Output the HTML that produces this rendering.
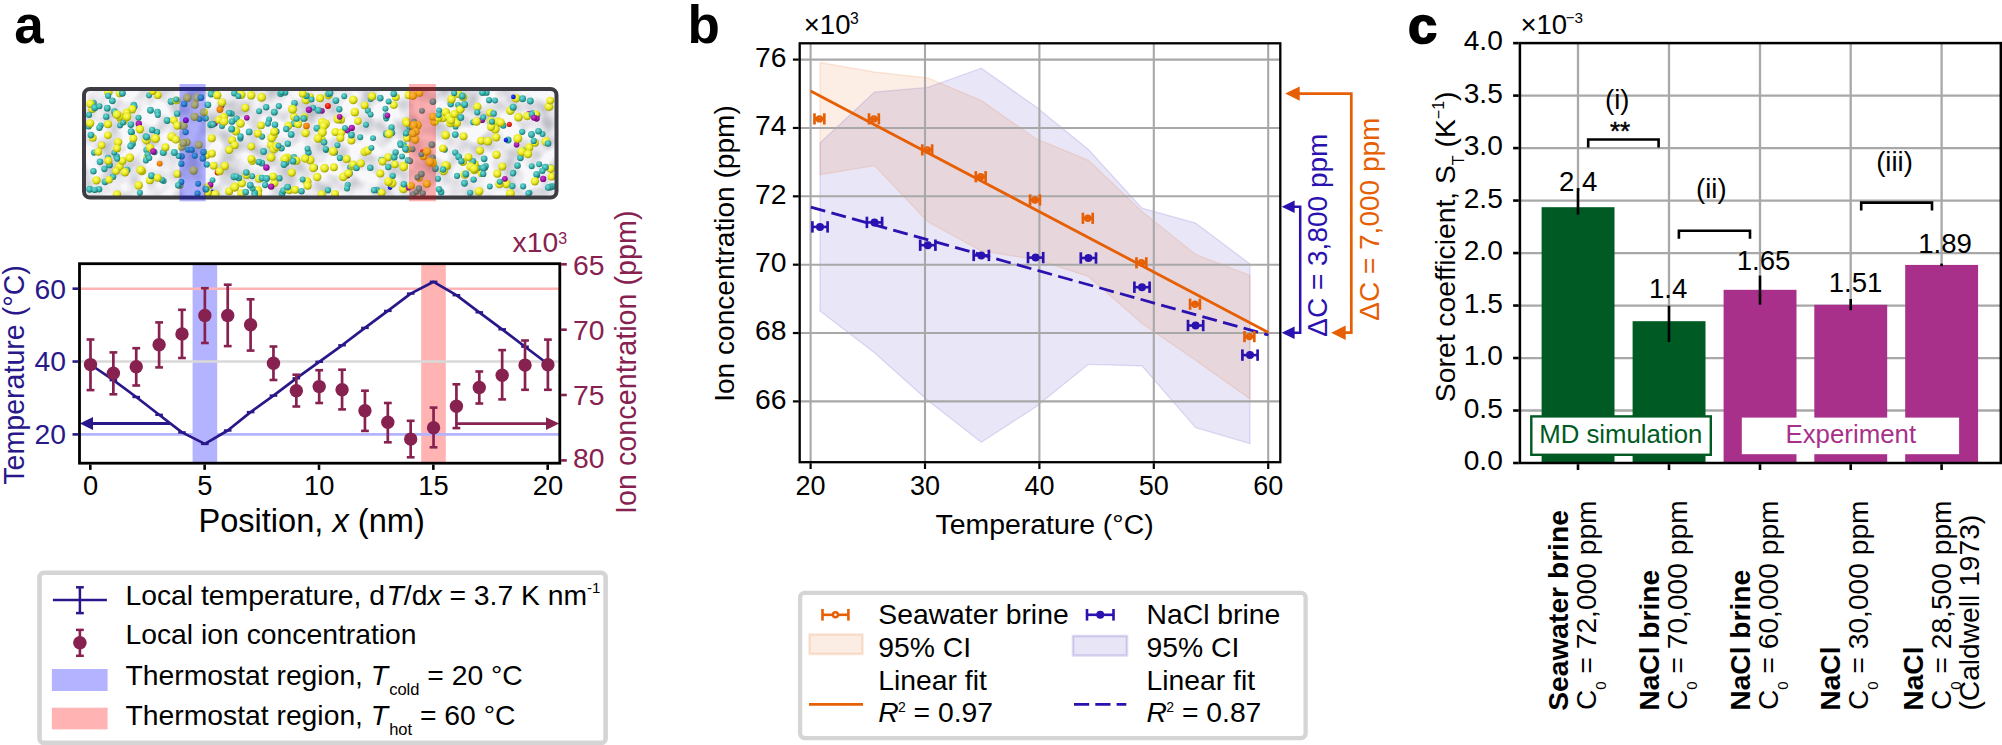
<!DOCTYPE html>
<html lang="en"><head><meta charset="utf-8"><title>Figure</title>
<style>html,body{margin:0;padding:0;background:#fff}svg{display:block}text{font-family:"Liberation Sans",Arial,Helvetica,sans-serif}</style></head><body>
<svg width="2002" height="745" viewBox="0 0 2002 745">
<rect width="2002" height="745" fill="#fff"/>
<defs>
<radialGradient id="gy" cx="0.4" cy="0.35" r="0.7"><stop offset="0" stop-color="#ffff70"/><stop offset="0.55" stop-color="#e6e61e"/><stop offset="1" stop-color="#8f8f00"/></radialGradient>
<radialGradient id="gc" cx="0.4" cy="0.35" r="0.7"><stop offset="0" stop-color="#70dcd8"/><stop offset="0.55" stop-color="#38b0ac"/><stop offset="1" stop-color="#126663"/></radialGradient>
<radialGradient id="gp" cx="0.4" cy="0.35" r="0.7"><stop offset="0" stop-color="#d040d0"/><stop offset="0.55" stop-color="#a818a8"/><stop offset="1" stop-color="#580058"/></radialGradient>
<radialGradient id="gr" cx="0.4" cy="0.35" r="0.7"><stop offset="0" stop-color="#ff5540"/><stop offset="0.55" stop-color="#ee1a10"/><stop offset="1" stop-color="#a00000"/></radialGradient>
<radialGradient id="go" cx="0.4" cy="0.35" r="0.7"><stop offset="0" stop-color="#ffa030"/><stop offset="0.55" stop-color="#f08000"/><stop offset="1" stop-color="#b05800"/></radialGradient>
<radialGradient id="gb" cx="0.4" cy="0.35" r="0.7"><stop offset="0" stop-color="#3050ff"/><stop offset="0.55" stop-color="#1020e0"/><stop offset="1" stop-color="#000890"/></radialGradient>
<radialGradient id="gg" cx="0.4" cy="0.35" r="0.7"><stop offset="0" stop-color="#b0b0b0"/><stop offset="0.55" stop-color="#8c8c8c"/><stop offset="1" stop-color="#5c5c5c"/></radialGradient>
<filter id="tex" x="0" y="0" width="100%" height="100%"><feTurbulence type="fractalNoise" baseFrequency="0.05" numOctaves="2" seed="7"/><feColorMatrix type="matrix" values="0 0 0 0 0.5  0 0 0 0 0.5  0 0 0 0 0.56  2.2 0 0 0 -0.85"/></filter>
<clipPath id="cbox"><rect x="84" y="89" width="472" height="108" rx="5"/></clipPath>
</defs>
<g id="panel-a">
<text x="14.3" y="43.3" font-size="53" fill="#000" font-weight="bold">a</text>
<g clip-path="url(#cbox)">
<rect x="83" y="88" width="474.5" height="110.5" fill="#f8f8fb"/>
<rect x="83" y="88" width="474.5" height="110.5" fill="#888" filter="url(#tex)"/>
<circle cx="351.39" cy="140.53" r="3.98" fill="url(#gy)"/>
<circle cx="127.14" cy="170.05" r="3.33" fill="url(#gc)"/>
<circle cx="337.49" cy="145.3" r="2.93" fill="url(#gc)"/>
<circle cx="376.79" cy="190.01" r="3.17" fill="url(#gc)"/>
<circle cx="506.35" cy="184.07" r="4.29" fill="url(#gy)"/>
<circle cx="119.59" cy="166.59" r="4.22" fill="url(#gy)"/>
<circle cx="107.98" cy="124.25" r="4.1" fill="url(#gy)"/>
<circle cx="413.09" cy="194.65" r="3.34" fill="url(#gc)"/>
<circle cx="339.84" cy="157.97" r="3.12" fill="url(#gc)"/>
<circle cx="159.68" cy="163.61" r="2.98" fill="url(#go)"/>
<circle cx="360.21" cy="137.28" r="3.02" fill="url(#gc)"/>
<circle cx="522.2" cy="131.77" r="3.13" fill="url(#gc)"/>
<circle cx="187.21" cy="97.87" r="4.25" fill="url(#gy)"/>
<circle cx="450.97" cy="121.97" r="4.45" fill="url(#gy)"/>
<circle cx="435.34" cy="168.49" r="3.4" fill="url(#gc)"/>
<circle cx="138.79" cy="123.71" r="3.17" fill="url(#gp)"/>
<circle cx="199.45" cy="119.02" r="3" fill="url(#gc)"/>
<circle cx="263.58" cy="151.56" r="3.48" fill="url(#gc)"/>
<circle cx="525" cy="150.24" r="3.11" fill="url(#gc)"/>
<circle cx="181.65" cy="156.38" r="3.16" fill="url(#gc)"/>
<circle cx="273.67" cy="135.28" r="3.86" fill="url(#gy)"/>
<circle cx="257.89" cy="190.39" r="4.36" fill="url(#gy)"/>
<circle cx="460.6" cy="108.89" r="4.14" fill="url(#gy)"/>
<circle cx="477.27" cy="106.81" r="4.28" fill="url(#gy)"/>
<circle cx="403.68" cy="165.75" r="4.16" fill="url(#gy)"/>
<circle cx="357.95" cy="121.09" r="3.79" fill="url(#gy)"/>
<circle cx="291.17" cy="134.4" r="3.4" fill="url(#gc)"/>
<circle cx="510.35" cy="193.61" r="4.52" fill="url(#gy)"/>
<circle cx="246.55" cy="174.88" r="4.04" fill="url(#gy)"/>
<circle cx="276.24" cy="131.46" r="3.33" fill="url(#gc)"/>
<circle cx="146.28" cy="150.08" r="2.99" fill="url(#gc)"/>
<circle cx="232.1" cy="140.15" r="4.01" fill="url(#gy)"/>
<circle cx="395.87" cy="97.06" r="3.92" fill="url(#gy)"/>
<circle cx="139.88" cy="129.3" r="4.19" fill="url(#gy)"/>
<circle cx="380.32" cy="173.52" r="3.99" fill="url(#gy)"/>
<circle cx="423.5" cy="156.33" r="3.89" fill="url(#gy)"/>
<circle cx="450.72" cy="104.08" r="3.31" fill="url(#gc)"/>
<circle cx="212.43" cy="192.05" r="2.54" fill="url(#gb)"/>
<circle cx="213.78" cy="165.7" r="3.88" fill="url(#gy)"/>
<circle cx="409.38" cy="124.96" r="3.19" fill="url(#gc)"/>
<circle cx="381.87" cy="160.2" r="3.49" fill="url(#gc)"/>
<circle cx="442.69" cy="118.26" r="4.02" fill="url(#gy)"/>
<circle cx="241.8" cy="183.37" r="4.09" fill="url(#gy)"/>
<circle cx="178.96" cy="125.65" r="3.02" fill="url(#gc)"/>
<circle cx="93.54" cy="103.03" r="3.26" fill="url(#gc)"/>
<circle cx="274.36" cy="183.09" r="4.13" fill="url(#gy)"/>
<circle cx="390.08" cy="187.48" r="2.42" fill="url(#gb)"/>
<circle cx="122.4" cy="160.83" r="4.05" fill="url(#gy)"/>
<circle cx="552.17" cy="186.41" r="3.48" fill="url(#gc)"/>
<circle cx="138.63" cy="185.37" r="4.33" fill="url(#gy)"/>
<circle cx="443.61" cy="171" r="4.29" fill="url(#gy)"/>
<circle cx="210.65" cy="124.77" r="3.38" fill="url(#gc)"/>
<circle cx="310.08" cy="97.46" r="4.11" fill="url(#gy)"/>
<circle cx="412.48" cy="149.16" r="3.02" fill="url(#gc)"/>
<circle cx="366.02" cy="124.76" r="2.94" fill="url(#gc)"/>
<circle cx="350.09" cy="167.34" r="3.14" fill="url(#gc)"/>
<circle cx="120.91" cy="118.65" r="4.01" fill="url(#gy)"/>
<circle cx="386.26" cy="118.32" r="3.08" fill="url(#gc)"/>
<circle cx="322.25" cy="122.28" r="4.24" fill="url(#gy)"/>
<circle cx="282.04" cy="193.51" r="3.42" fill="url(#gc)"/>
<circle cx="231.46" cy="113.62" r="3.22" fill="url(#gc)"/>
<circle cx="405.84" cy="121.18" r="3.88" fill="url(#gy)"/>
<circle cx="497.27" cy="124.4" r="3.03" fill="url(#gc)"/>
<circle cx="241.16" cy="94.54" r="4.42" fill="url(#gy)"/>
<circle cx="386.08" cy="115.63" r="3.33" fill="url(#gc)"/>
<circle cx="167.13" cy="120.45" r="3.46" fill="url(#gc)"/>
<circle cx="274.31" cy="112.15" r="3.46" fill="url(#gc)"/>
<circle cx="464.75" cy="174.52" r="4.3" fill="url(#gy)"/>
<circle cx="409.61" cy="126.4" r="3.43" fill="url(#gc)"/>
<circle cx="529.24" cy="147.47" r="4.11" fill="url(#gy)"/>
<circle cx="510.13" cy="111.15" r="3.12" fill="url(#gc)"/>
<circle cx="486.45" cy="92.68" r="3.18" fill="url(#gc)"/>
<circle cx="489.8" cy="186.51" r="2.94" fill="url(#gc)"/>
<circle cx="406.14" cy="135.05" r="3.07" fill="url(#gc)"/>
<circle cx="489.94" cy="112.66" r="3.96" fill="url(#gy)"/>
<circle cx="235.94" cy="131.09" r="4.32" fill="url(#gy)"/>
<circle cx="285.08" cy="92.45" r="3.23" fill="url(#gc)"/>
<circle cx="112.34" cy="100.86" r="3.36" fill="url(#gc)"/>
<circle cx="545.94" cy="141.53" r="4.42" fill="url(#gy)"/>
<circle cx="481.82" cy="173.13" r="3.99" fill="url(#gy)"/>
<circle cx="141.93" cy="170.95" r="4.31" fill="url(#gy)"/>
<circle cx="234.31" cy="93.24" r="3.18" fill="url(#gc)"/>
<circle cx="444.76" cy="149.58" r="3.08" fill="url(#gc)"/>
<circle cx="133.76" cy="105.02" r="3.34" fill="url(#gc)"/>
<circle cx="335.43" cy="132.04" r="3.99" fill="url(#gy)"/>
<circle cx="147.16" cy="157.11" r="3.85" fill="url(#gy)"/>
<circle cx="502.3" cy="166.46" r="4" fill="url(#gy)"/>
<circle cx="414.08" cy="121.89" r="3.1" fill="url(#gc)"/>
<circle cx="484.14" cy="158.84" r="3.36" fill="url(#gc)"/>
<circle cx="246.79" cy="117.78" r="2.81" fill="url(#gp)"/>
<circle cx="181.34" cy="163.64" r="3.17" fill="url(#gc)"/>
<circle cx="249.13" cy="131.98" r="3.37" fill="url(#gc)"/>
<circle cx="156.9" cy="132.12" r="3.3" fill="url(#gc)"/>
<circle cx="173.87" cy="120.37" r="3.78" fill="url(#gy)"/>
<circle cx="537.17" cy="175.51" r="2.95" fill="url(#gc)"/>
<circle cx="400.25" cy="143.29" r="3.04" fill="url(#gc)"/>
<circle cx="224.77" cy="165.9" r="4.24" fill="url(#gy)"/>
<circle cx="328.36" cy="95.04" r="4.36" fill="url(#gy)"/>
<circle cx="393.84" cy="105.03" r="3.85" fill="url(#gy)"/>
<circle cx="325.68" cy="123.84" r="4.31" fill="url(#gy)"/>
<circle cx="520.38" cy="157.87" r="3.35" fill="url(#gc)"/>
<circle cx="447.08" cy="165.96" r="4.08" fill="url(#gy)"/>
<circle cx="364.74" cy="151.75" r="4.3" fill="url(#gy)"/>
<circle cx="307.07" cy="181.58" r="4.46" fill="url(#gy)"/>
<circle cx="537.3" cy="115.1" r="3.09" fill="url(#gc)"/>
<circle cx="508.13" cy="139.98" r="3.45" fill="url(#gc)"/>
<circle cx="149.06" cy="95.37" r="3.02" fill="url(#gc)"/>
<circle cx="321.7" cy="194.22" r="4.01" fill="url(#gy)"/>
<circle cx="535.01" cy="142.75" r="3.93" fill="url(#gy)"/>
<circle cx="197.13" cy="97.62" r="4.22" fill="url(#gy)"/>
<circle cx="229.08" cy="150.17" r="3.35" fill="url(#gc)"/>
<circle cx="415.24" cy="139.52" r="4.19" fill="url(#gy)"/>
<circle cx="532.27" cy="112.86" r="2.95" fill="url(#gc)"/>
<circle cx="530.28" cy="101.07" r="3.47" fill="url(#gc)"/>
<circle cx="107.86" cy="135.35" r="3.81" fill="url(#gy)"/>
<circle cx="353.15" cy="166.03" r="4.13" fill="url(#gy)"/>
<circle cx="265.18" cy="184.97" r="3.16" fill="url(#gc)"/>
<circle cx="228.99" cy="113.1" r="3.32" fill="url(#gc)"/>
<circle cx="482.04" cy="120" r="3.12" fill="url(#gp)"/>
<circle cx="482.49" cy="92.51" r="3.38" fill="url(#gc)"/>
<circle cx="118.08" cy="142.18" r="4.2" fill="url(#gy)"/>
<circle cx="287.81" cy="143.76" r="3.23" fill="url(#gc)"/>
<circle cx="283.47" cy="190.54" r="3.37" fill="url(#gc)"/>
<circle cx="178.61" cy="155.93" r="3" fill="url(#gc)"/>
<circle cx="370.61" cy="98.93" r="2.99" fill="url(#gc)"/>
<circle cx="92.86" cy="137.98" r="3.86" fill="url(#gy)"/>
<circle cx="134.27" cy="106.52" r="3.26" fill="url(#gc)"/>
<circle cx="528.88" cy="113.8" r="2.83" fill="url(#gp)"/>
<circle cx="352.99" cy="164.41" r="3.87" fill="url(#gy)"/>
<circle cx="270.8" cy="144.82" r="3.82" fill="url(#gy)"/>
<circle cx="381.7" cy="192.66" r="3.88" fill="url(#gy)"/>
<circle cx="181.7" cy="146.64" r="3.95" fill="url(#gy)"/>
<circle cx="325.95" cy="149.85" r="3.14" fill="url(#gc)"/>
<circle cx="259.01" cy="178.72" r="4.11" fill="url(#gy)"/>
<circle cx="115.35" cy="114" r="3.36" fill="url(#gc)"/>
<circle cx="132.21" cy="109.22" r="4.19" fill="url(#gy)"/>
<circle cx="197.49" cy="193.47" r="3.14" fill="url(#gc)"/>
<circle cx="157.44" cy="112.12" r="3.38" fill="url(#gc)"/>
<circle cx="356.52" cy="167.97" r="3.23" fill="url(#gc)"/>
<circle cx="258" cy="193.98" r="4.08" fill="url(#gy)"/>
<circle cx="310.14" cy="160.11" r="4.34" fill="url(#gy)"/>
<circle cx="289.32" cy="190.1" r="4.19" fill="url(#gy)"/>
<circle cx="489.06" cy="100.13" r="3.08" fill="url(#gc)"/>
<circle cx="126.67" cy="112.4" r="3.97" fill="url(#gy)"/>
<circle cx="234.79" cy="145.21" r="3.88" fill="url(#gy)"/>
<circle cx="347.47" cy="175.57" r="3.04" fill="url(#gp)"/>
<circle cx="163.31" cy="152.46" r="3.51" fill="url(#gc)"/>
<circle cx="286.38" cy="162.7" r="3.13" fill="url(#gc)"/>
<circle cx="531.5" cy="134.55" r="3.44" fill="url(#gc)"/>
<circle cx="294.14" cy="123.49" r="3.43" fill="url(#gc)"/>
<circle cx="403.83" cy="145.16" r="3.17" fill="url(#gc)"/>
<circle cx="188.04" cy="149.65" r="2.98" fill="url(#gc)"/>
<circle cx="183.43" cy="125.69" r="4.32" fill="url(#gy)"/>
<circle cx="445.68" cy="165.5" r="4.41" fill="url(#gy)"/>
<circle cx="455.26" cy="152.54" r="3.14" fill="url(#gc)"/>
<circle cx="347.72" cy="184.83" r="3.05" fill="url(#gc)"/>
<circle cx="123.36" cy="120.89" r="4.33" fill="url(#gy)"/>
<circle cx="443.07" cy="169.55" r="3.21" fill="url(#gc)"/>
<circle cx="262.04" cy="178.1" r="3.47" fill="url(#gc)"/>
<circle cx="236.46" cy="118.93" r="3.38" fill="url(#gc)"/>
<circle cx="457.93" cy="93.83" r="4.26" fill="url(#gy)"/>
<circle cx="451.5" cy="99.12" r="4.37" fill="url(#gy)"/>
<circle cx="306.03" cy="99.78" r="4.51" fill="url(#gy)"/>
<circle cx="339.31" cy="109.24" r="3.16" fill="url(#gc)"/>
<circle cx="179.75" cy="185.15" r="3.82" fill="url(#gy)"/>
<circle cx="386.27" cy="134" r="3.4" fill="url(#gc)"/>
<circle cx="483.2" cy="117.36" r="3.08" fill="url(#gc)"/>
<circle cx="521.77" cy="151.68" r="4.48" fill="url(#gy)"/>
<circle cx="132" cy="132.42" r="2.98" fill="url(#gc)"/>
<circle cx="408.66" cy="95.19" r="4.07" fill="url(#gy)"/>
<circle cx="254.71" cy="193.17" r="3.43" fill="url(#gc)"/>
<circle cx="206.73" cy="155.16" r="4.15" fill="url(#gy)"/>
<circle cx="113.01" cy="176.81" r="3.25" fill="url(#gc)"/>
<circle cx="221.64" cy="105.33" r="2.87" fill="url(#gp)"/>
<circle cx="419.13" cy="177.6" r="4.13" fill="url(#gy)"/>
<circle cx="503.24" cy="125.52" r="3.24" fill="url(#gc)"/>
<circle cx="470.1" cy="192.81" r="3.13" fill="url(#gc)"/>
<circle cx="478.16" cy="167.85" r="3.1" fill="url(#gc)"/>
<circle cx="295.13" cy="189.76" r="3.95" fill="url(#gy)"/>
<circle cx="324.56" cy="168.07" r="4.4" fill="url(#gy)"/>
<circle cx="313.15" cy="107.72" r="3.04" fill="url(#gc)"/>
<circle cx="147.64" cy="154.69" r="3.09" fill="url(#gc)"/>
<circle cx="240.34" cy="138.61" r="3.04" fill="url(#gc)"/>
<circle cx="150.44" cy="110.31" r="3.46" fill="url(#gc)"/>
<circle cx="205.56" cy="118.29" r="3.22" fill="url(#gc)"/>
<circle cx="107.96" cy="157.9" r="3.17" fill="url(#gc)"/>
<circle cx="215.73" cy="92.25" r="3.08" fill="url(#gc)"/>
<circle cx="306.43" cy="95.78" r="3.39" fill="url(#gc)"/>
<circle cx="96.48" cy="180.34" r="4.2" fill="url(#gy)"/>
<circle cx="497.3" cy="173.67" r="4.07" fill="url(#gy)"/>
<circle cx="101.63" cy="145.37" r="3.81" fill="url(#gy)"/>
<circle cx="181.26" cy="181.96" r="3.12" fill="url(#gc)"/>
<circle cx="455.56" cy="126.64" r="2.95" fill="url(#gc)"/>
<circle cx="407.09" cy="138.15" r="3.85" fill="url(#gy)"/>
<circle cx="304.21" cy="117.4" r="4.03" fill="url(#gy)"/>
<circle cx="549" cy="106.63" r="4.46" fill="url(#gy)"/>
<circle cx="116.58" cy="156.43" r="3.28" fill="url(#gc)"/>
<circle cx="266.18" cy="107.3" r="3.2" fill="url(#gc)"/>
<circle cx="417.3" cy="125.34" r="4.48" fill="url(#gy)"/>
<circle cx="421.96" cy="110.85" r="2.94" fill="url(#gc)"/>
<circle cx="252.59" cy="188.51" r="3.05" fill="url(#gc)"/>
<circle cx="431.89" cy="144.77" r="3.44" fill="url(#gc)"/>
<circle cx="186.59" cy="142.26" r="3.95" fill="url(#gy)"/>
<circle cx="211.15" cy="94.07" r="3.46" fill="url(#gc)"/>
<circle cx="316.97" cy="128.14" r="3.48" fill="url(#gc)"/>
<circle cx="119.72" cy="93.37" r="4.02" fill="url(#gy)"/>
<circle cx="308.43" cy="152.43" r="3.22" fill="url(#gc)"/>
<circle cx="163.61" cy="180.91" r="3.01" fill="url(#gc)"/>
<circle cx="529.39" cy="192.7" r="3.06" fill="url(#gc)"/>
<circle cx="293.82" cy="157.31" r="3.34" fill="url(#gc)"/>
<circle cx="528.26" cy="193.33" r="2.97" fill="url(#gc)"/>
<circle cx="146.44" cy="139.98" r="4.4" fill="url(#gy)"/>
<circle cx="165.52" cy="147.23" r="3.9" fill="url(#gy)"/>
<circle cx="341" cy="119.79" r="4" fill="url(#gy)"/>
<circle cx="393.75" cy="93.73" r="3.34" fill="url(#gc)"/>
<circle cx="215.22" cy="194.28" r="4.27" fill="url(#gy)"/>
<circle cx="512.36" cy="186.12" r="3.16" fill="url(#gc)"/>
<circle cx="281.45" cy="148.33" r="3.27" fill="url(#gc)"/>
<circle cx="380.3" cy="98.1" r="3.34" fill="url(#gc)"/>
<circle cx="122.37" cy="93.17" r="3.46" fill="url(#gc)"/>
<circle cx="516.57" cy="144.66" r="2.8" fill="url(#gp)"/>
<circle cx="252.25" cy="160.94" r="4.14" fill="url(#gy)"/>
<circle cx="391.55" cy="127.48" r="3.17" fill="url(#gc)"/>
<circle cx="407.38" cy="132.13" r="3.22" fill="url(#gc)"/>
<circle cx="422.65" cy="151.87" r="2.66" fill="url(#gr)"/>
<circle cx="406.89" cy="148.84" r="4.31" fill="url(#gy)"/>
<circle cx="100.67" cy="125.53" r="3.03" fill="url(#gc)"/>
<circle cx="510.37" cy="110.45" r="4.37" fill="url(#gy)"/>
<circle cx="367.84" cy="110.64" r="3.03" fill="url(#gc)"/>
<circle cx="194.74" cy="104.85" r="3.98" fill="url(#gy)"/>
<circle cx="296.31" cy="160.66" r="4.21" fill="url(#gy)"/>
<circle cx="132.53" cy="143.79" r="3.39" fill="url(#gc)"/>
<circle cx="498.31" cy="121.78" r="4.28" fill="url(#gy)"/>
<circle cx="269.08" cy="119.5" r="3.03" fill="url(#gc)"/>
<circle cx="491.07" cy="121.4" r="4.03" fill="url(#gy)"/>
<circle cx="288.23" cy="125.79" r="4.18" fill="url(#gy)"/>
<circle cx="211.72" cy="123.89" r="3.15" fill="url(#gc)"/>
<circle cx="279.37" cy="178.2" r="3.24" fill="url(#gc)"/>
<circle cx="287.61" cy="187.12" r="3.49" fill="url(#gc)"/>
<circle cx="171.09" cy="101.4" r="3.44" fill="url(#gc)"/>
<circle cx="251.31" cy="158.87" r="3.9" fill="url(#gy)"/>
<circle cx="337.9" cy="119.02" r="4.48" fill="url(#gy)"/>
<circle cx="217.23" cy="95.15" r="4.22" fill="url(#gy)"/>
<circle cx="93.96" cy="152.53" r="3.12" fill="url(#gc)"/>
<circle cx="129.74" cy="157.73" r="4.44" fill="url(#gy)"/>
<circle cx="432.74" cy="157.57" r="3.09" fill="url(#gc)"/>
<circle cx="126.6" cy="115.94" r="2.73" fill="url(#gr)"/>
<circle cx="229.11" cy="191.21" r="4.08" fill="url(#gy)"/>
<circle cx="413.47" cy="125.31" r="4.34" fill="url(#gy)"/>
<circle cx="334.96" cy="193.93" r="4.03" fill="url(#gy)"/>
<circle cx="307.6" cy="185.8" r="4.01" fill="url(#gy)"/>
<circle cx="388.64" cy="101.43" r="2.97" fill="url(#gc)"/>
<circle cx="343.25" cy="176.83" r="4.42" fill="url(#gy)"/>
<circle cx="251.38" cy="146.61" r="3.83" fill="url(#gy)"/>
<circle cx="392.01" cy="183.24" r="4.45" fill="url(#gy)"/>
<circle cx="550.71" cy="167.1" r="2.94" fill="url(#gc)"/>
<circle cx="531.69" cy="166.14" r="3" fill="url(#gc)"/>
<circle cx="535.91" cy="115.97" r="3.24" fill="url(#gc)"/>
<circle cx="177.42" cy="173.88" r="3.88" fill="url(#gy)"/>
<circle cx="457.95" cy="104.82" r="2.93" fill="url(#gc)"/>
<circle cx="462.93" cy="161.88" r="4.18" fill="url(#gy)"/>
<circle cx="460.08" cy="109.65" r="4.19" fill="url(#gy)"/>
<circle cx="93.4" cy="171.35" r="3.24" fill="url(#gc)"/>
<circle cx="341.3" cy="132.56" r="4.14" fill="url(#gy)"/>
<circle cx="353.24" cy="99.89" r="4.4" fill="url(#gy)"/>
<circle cx="416.71" cy="191.68" r="3" fill="url(#gc)"/>
<circle cx="372.12" cy="96.39" r="4.09" fill="url(#gy)"/>
<circle cx="303.75" cy="118.46" r="3.4" fill="url(#gc)"/>
<circle cx="302.62" cy="179.52" r="3" fill="url(#gc)"/>
<circle cx="354.76" cy="112.09" r="4.4" fill="url(#gy)"/>
<circle cx="209.41" cy="185.57" r="3.79" fill="url(#gy)"/>
<circle cx="504.85" cy="178.86" r="2.89" fill="url(#gp)"/>
<circle cx="327.9" cy="105.9" r="3" fill="url(#gr)"/>
<circle cx="373.03" cy="138.12" r="2.99" fill="url(#gc)"/>
<circle cx="388.15" cy="157.24" r="3.92" fill="url(#gy)"/>
<circle cx="211.75" cy="138.19" r="4.05" fill="url(#gy)"/>
<circle cx="223.7" cy="117.28" r="4.45" fill="url(#gy)"/>
<circle cx="400.52" cy="144.99" r="2.99" fill="url(#gc)"/>
<circle cx="114.23" cy="152.66" r="2.93" fill="url(#gc)"/>
<circle cx="403.39" cy="188.85" r="4.42" fill="url(#gy)"/>
<circle cx="551.56" cy="176.67" r="3.86" fill="url(#gy)"/>
<circle cx="474.62" cy="164.31" r="4.36" fill="url(#gy)"/>
<circle cx="210.49" cy="184.49" r="2.9" fill="url(#gp)"/>
<circle cx="320.05" cy="98.16" r="4.04" fill="url(#gy)"/>
<circle cx="542.58" cy="134.07" r="3.01" fill="url(#gc)"/>
<circle cx="463.11" cy="97.07" r="4.27" fill="url(#gy)"/>
<circle cx="527.22" cy="116.03" r="4.1" fill="url(#gy)"/>
<circle cx="536.02" cy="114.4" r="3.84" fill="url(#gy)"/>
<circle cx="246.23" cy="172.58" r="3.26" fill="url(#gc)"/>
<circle cx="321.95" cy="139.48" r="3.81" fill="url(#gy)"/>
<circle cx="114.46" cy="111.69" r="3.33" fill="url(#gc)"/>
<circle cx="426.78" cy="183.7" r="4.07" fill="url(#gy)"/>
<circle cx="477.23" cy="112.34" r="3.08" fill="url(#gc)"/>
<circle cx="176.31" cy="100.35" r="3.93" fill="url(#gy)"/>
<circle cx="287.24" cy="157.57" r="3.95" fill="url(#gy)"/>
<circle cx="458.66" cy="156.74" r="3.35" fill="url(#gc)"/>
<circle cx="286.28" cy="129.03" r="3.26" fill="url(#gc)"/>
<circle cx="206.76" cy="164.42" r="3.14" fill="url(#gc)"/>
<circle cx="392.62" cy="175.81" r="3.18" fill="url(#gc)"/>
<circle cx="403.82" cy="184.26" r="3.25" fill="url(#gc)"/>
<circle cx="174.32" cy="152.51" r="3.49" fill="url(#gc)"/>
<circle cx="333.91" cy="167.29" r="3.96" fill="url(#gy)"/>
<circle cx="516.07" cy="98.2" r="4.3" fill="url(#gy)"/>
<circle cx="207.89" cy="104.83" r="3.4" fill="url(#gc)"/>
<circle cx="394.16" cy="157.21" r="3.42" fill="url(#gc)"/>
<circle cx="293.94" cy="116.83" r="3.94" fill="url(#gy)"/>
<circle cx="321.8" cy="110.86" r="2.97" fill="url(#gp)"/>
<circle cx="474.37" cy="169.85" r="4.45" fill="url(#gy)"/>
<circle cx="495.24" cy="129.2" r="4.45" fill="url(#gy)"/>
<circle cx="150.13" cy="147.72" r="4.04" fill="url(#gy)"/>
<circle cx="293.04" cy="161.17" r="3.35" fill="url(#gc)"/>
<circle cx="360.79" cy="163.36" r="4.09" fill="url(#gy)"/>
<circle cx="454.17" cy="93.05" r="3.11" fill="url(#gc)"/>
<circle cx="273.91" cy="148.98" r="4.42" fill="url(#gy)"/>
<circle cx="548" cy="143.47" r="3.31" fill="url(#gc)"/>
<circle cx="157.8" cy="114.94" r="3.02" fill="url(#gc)"/>
<circle cx="472.83" cy="161.48" r="3.45" fill="url(#gc)"/>
<circle cx="335.87" cy="100.55" r="3.39" fill="url(#gc)"/>
<circle cx="130.63" cy="146.13" r="3.31" fill="url(#gc)"/>
<circle cx="422.85" cy="193.22" r="3.01" fill="url(#gc)"/>
<circle cx="307.49" cy="148.7" r="3" fill="url(#gc)"/>
<circle cx="274.97" cy="124.8" r="3.3" fill="url(#gc)"/>
<circle cx="456.75" cy="117.26" r="2.93" fill="url(#gc)"/>
<circle cx="531.9" cy="114.31" r="3.17" fill="url(#gc)"/>
<circle cx="117" cy="148.41" r="3.94" fill="url(#gy)"/>
<circle cx="491.05" cy="126.76" r="4.15" fill="url(#gy)"/>
<circle cx="145.72" cy="136.24" r="3.03" fill="url(#gc)"/>
<circle cx="408.06" cy="160.3" r="3.31" fill="url(#gc)"/>
<circle cx="406.74" cy="123.19" r="3.83" fill="url(#gy)"/>
<circle cx="346.71" cy="159" r="3.93" fill="url(#gy)"/>
<circle cx="415.76" cy="131.68" r="3.9" fill="url(#gy)"/>
<circle cx="445.61" cy="135.09" r="4.45" fill="url(#gy)"/>
<circle cx="259.13" cy="111.24" r="3.02" fill="url(#gc)"/>
<circle cx="261.74" cy="163.1" r="3.45" fill="url(#gc)"/>
<circle cx="92.18" cy="108.97" r="4.05" fill="url(#gy)"/>
<circle cx="454.3" cy="118.41" r="3.82" fill="url(#gy)"/>
<circle cx="538.47" cy="131.22" r="3.3" fill="url(#gc)"/>
<circle cx="463.58" cy="136.3" r="3.96" fill="url(#gy)"/>
<circle cx="315.13" cy="167.43" r="2.98" fill="url(#gc)"/>
<circle cx="262.05" cy="136.51" r="3.13" fill="url(#gc)"/>
<circle cx="241.4" cy="193.34" r="4.12" fill="url(#gy)"/>
<circle cx="133.33" cy="138.59" r="3.97" fill="url(#gy)"/>
<circle cx="89.1" cy="114.9" r="3.06" fill="url(#gc)"/>
<circle cx="305.56" cy="132.94" r="4.28" fill="url(#gy)"/>
<circle cx="305.07" cy="158.61" r="4.11" fill="url(#gy)"/>
<circle cx="88.53" cy="126.22" r="3.31" fill="url(#gc)"/>
<circle cx="238.76" cy="177.92" r="3.25" fill="url(#gc)"/>
<circle cx="347.5" cy="130.5" r="2.92" fill="url(#gp)"/>
<circle cx="222.01" cy="125.98" r="3.02" fill="url(#gc)"/>
<circle cx="178.21" cy="185.32" r="3.28" fill="url(#gc)"/>
<circle cx="130.83" cy="124.52" r="3.39" fill="url(#gc)"/>
<circle cx="200.85" cy="97.58" r="3.37" fill="url(#gc)"/>
<circle cx="456.86" cy="123.1" r="4.26" fill="url(#gy)"/>
<circle cx="311.52" cy="99.56" r="3.04" fill="url(#gc)"/>
<circle cx="394.92" cy="164.44" r="3.83" fill="url(#gy)"/>
<circle cx="405.56" cy="149.05" r="3.47" fill="url(#gc)"/>
<circle cx="106.21" cy="116.63" r="3.19" fill="url(#gc)"/>
<circle cx="323.67" cy="126.02" r="4.31" fill="url(#gy)"/>
<circle cx="318.42" cy="110.32" r="3.39" fill="url(#gc)"/>
<circle cx="229.23" cy="149.95" r="4.13" fill="url(#gy)"/>
<circle cx="327.96" cy="190.14" r="3.11" fill="url(#gc)"/>
<circle cx="257.95" cy="133.47" r="4.01" fill="url(#gy)"/>
<circle cx="367.84" cy="150.57" r="4.22" fill="url(#gy)"/>
<circle cx="233.97" cy="176.71" r="3.47" fill="url(#gc)"/>
<circle cx="267.88" cy="123.6" r="3.11" fill="url(#gc)"/>
<circle cx="479.01" cy="191.28" r="4.39" fill="url(#gy)"/>
<circle cx="470.66" cy="166.66" r="4.31" fill="url(#gy)"/>
<circle cx="154.5" cy="152.14" r="3.04" fill="url(#gc)"/>
<circle cx="481.05" cy="140.72" r="4" fill="url(#gy)"/>
<circle cx="140.59" cy="170.04" r="4.35" fill="url(#gy)"/>
<circle cx="370.6" cy="114.49" r="2.94" fill="url(#gc)"/>
<circle cx="382.56" cy="161.47" r="3.91" fill="url(#gy)"/>
<circle cx="294.5" cy="103.21" r="3.25" fill="url(#gc)"/>
<circle cx="131.06" cy="131.73" r="3.36" fill="url(#gc)"/>
<circle cx="271.04" cy="157.39" r="4.43" fill="url(#gy)"/>
<circle cx="509.33" cy="124.38" r="2.53" fill="url(#gr)"/>
<circle cx="484.84" cy="167.4" r="3.28" fill="url(#gc)"/>
<circle cx="298.12" cy="124.34" r="4.02" fill="url(#gy)"/>
<circle cx="500.69" cy="122.42" r="4.28" fill="url(#gy)"/>
<circle cx="276.74" cy="146.43" r="4.45" fill="url(#gy)"/>
<circle cx="406.01" cy="133.32" r="3.08" fill="url(#gc)"/>
<circle cx="252.21" cy="176.3" r="2.93" fill="url(#gc)"/>
<circle cx="90.36" cy="103.75" r="4.2" fill="url(#gy)"/>
<circle cx="280.58" cy="93.57" r="3.43" fill="url(#gc)"/>
<circle cx="391.83" cy="132.81" r="3.41" fill="url(#gc)"/>
<circle cx="461.4" cy="161.14" r="3.25" fill="url(#gc)"/>
<circle cx="441.04" cy="192.17" r="3.31" fill="url(#gc)"/>
<circle cx="371.39" cy="147.87" r="2.98" fill="url(#gc)"/>
<circle cx="388.41" cy="181.57" r="4.42" fill="url(#gy)"/>
<circle cx="445.78" cy="112.21" r="4.28" fill="url(#gy)"/>
<circle cx="328.57" cy="93.84" r="3.43" fill="url(#gc)"/>
<circle cx="351.41" cy="134.95" r="3.43" fill="url(#gc)"/>
<circle cx="485.83" cy="166.09" r="2.97" fill="url(#gc)"/>
<circle cx="479.9" cy="150.64" r="4.2" fill="url(#gy)"/>
<circle cx="94.65" cy="107.73" r="3.46" fill="url(#gc)"/>
<circle cx="185.6" cy="132.1" r="3.16" fill="url(#gc)"/>
<circle cx="99.38" cy="127.86" r="3.18" fill="url(#gc)"/>
<circle cx="340.4" cy="137.95" r="4" fill="url(#gy)"/>
<circle cx="278.83" cy="106.06" r="3.13" fill="url(#gc)"/>
<circle cx="104.41" cy="168.98" r="3.16" fill="url(#gc)"/>
<circle cx="109.5" cy="164.92" r="3.37" fill="url(#gc)"/>
<circle cx="271.65" cy="137.92" r="4.34" fill="url(#gy)"/>
<circle cx="149.91" cy="180.33" r="4.02" fill="url(#gy)"/>
<circle cx="536.54" cy="174.25" r="3.24" fill="url(#gc)"/>
<circle cx="217.58" cy="172.52" r="2.92" fill="url(#gr)"/>
<circle cx="120" cy="125.38" r="2.93" fill="url(#gc)"/>
<circle cx="292.25" cy="108.81" r="4.01" fill="url(#gy)"/>
<circle cx="261.01" cy="125.42" r="3.84" fill="url(#gy)"/>
<circle cx="185.86" cy="120.19" r="2.91" fill="url(#gp)"/>
<circle cx="261.58" cy="97.27" r="4.45" fill="url(#gy)"/>
<circle cx="151.45" cy="175.76" r="3.39" fill="url(#gc)"/>
<circle cx="219.61" cy="171.23" r="3.99" fill="url(#gy)"/>
<circle cx="214.85" cy="123.82" r="2.73" fill="url(#gp)"/>
<circle cx="434.43" cy="121.42" r="4.49" fill="url(#gy)"/>
<circle cx="238.39" cy="96.15" r="2.97" fill="url(#gc)"/>
<circle cx="98.27" cy="151.82" r="3.92" fill="url(#gy)"/>
<circle cx="439.12" cy="110.41" r="2.95" fill="url(#gc)"/>
<circle cx="432.86" cy="116.65" r="3.9" fill="url(#gy)"/>
<circle cx="339.63" cy="116.81" r="2.83" fill="url(#gp)"/>
<circle cx="322.31" cy="132.38" r="4.52" fill="url(#gy)"/>
<circle cx="155.54" cy="138.54" r="4.5" fill="url(#gy)"/>
<circle cx="90.94" cy="135.09" r="3.37" fill="url(#gc)"/>
<circle cx="211.87" cy="153.48" r="3.99" fill="url(#gy)"/>
<circle cx="284.76" cy="158.91" r="4.46" fill="url(#gy)"/>
<circle cx="460.76" cy="117.55" r="3.46" fill="url(#gc)"/>
<circle cx="250.17" cy="185.19" r="3.42" fill="url(#gc)"/>
<circle cx="207.7" cy="192.88" r="3.93" fill="url(#gy)"/>
<circle cx="301.46" cy="191.14" r="3.26" fill="url(#gc)"/>
<circle cx="284.02" cy="164.52" r="3.41" fill="url(#gc)"/>
<circle cx="421.35" cy="154.36" r="2.98" fill="url(#gc)"/>
<circle cx="370.22" cy="167.79" r="3.25" fill="url(#gc)"/>
<circle cx="90.19" cy="123.26" r="4.13" fill="url(#gy)"/>
<circle cx="296.64" cy="118.62" r="3.21" fill="url(#gc)"/>
<circle cx="273.02" cy="176.5" r="4.02" fill="url(#gy)"/>
<circle cx="292.62" cy="109.35" r="4.44" fill="url(#gy)"/>
<circle cx="513.18" cy="107.2" r="3.5" fill="url(#gc)"/>
<circle cx="448.74" cy="116.95" r="3.9" fill="url(#gy)"/>
<circle cx="194.78" cy="155.86" r="3.02" fill="url(#gc)"/>
<circle cx="325.7" cy="148.99" r="3.04" fill="url(#gc)"/>
<circle cx="198.84" cy="144.92" r="3.8" fill="url(#gy)"/>
<circle cx="105.02" cy="181.77" r="3.37" fill="url(#gc)"/>
<circle cx="161.88" cy="179.78" r="3.14" fill="url(#gc)"/>
<circle cx="483.33" cy="167.95" r="3.48" fill="url(#gc)"/>
<circle cx="403.69" cy="166.86" r="4.44" fill="url(#gy)"/>
<circle cx="302.7" cy="93.65" r="3.85" fill="url(#gy)"/>
<circle cx="364.64" cy="105.27" r="3.87" fill="url(#gy)"/>
<circle cx="202.88" cy="158.4" r="3.31" fill="url(#gc)"/>
<circle cx="258.82" cy="161.92" r="3.21" fill="url(#gc)"/>
<circle cx="109.05" cy="179.78" r="3.82" fill="url(#gy)"/>
<circle cx="468.49" cy="157.26" r="3.9" fill="url(#gy)"/>
<circle cx="177.09" cy="113.66" r="3.18" fill="url(#gc)"/>
<circle cx="194.56" cy="116.86" r="4.23" fill="url(#gy)"/>
<circle cx="278.51" cy="145.76" r="3.01" fill="url(#gc)"/>
<circle cx="517.76" cy="138.54" r="4.53" fill="url(#gy)"/>
<circle cx="108.23" cy="92.26" r="4.3" fill="url(#gy)"/>
<circle cx="334.94" cy="152.45" r="3.02" fill="url(#gc)"/>
<circle cx="212.88" cy="124.46" r="3.13" fill="url(#gc)"/>
<circle cx="123.06" cy="122.44" r="2.95" fill="url(#gc)"/>
<circle cx="349.73" cy="173.48" r="3.12" fill="url(#gc)"/>
<circle cx="483.19" cy="173.88" r="3.22" fill="url(#gc)"/>
<circle cx="534.92" cy="181.26" r="4.17" fill="url(#gy)"/>
<circle cx="152.15" cy="129.9" r="3.24" fill="url(#gc)"/>
<circle cx="549.99" cy="187.2" r="3.38" fill="url(#gc)"/>
<circle cx="432.57" cy="162.91" r="4.51" fill="url(#gy)"/>
<circle cx="495.02" cy="100.59" r="2.97" fill="url(#gc)"/>
<circle cx="523.13" cy="186.38" r="3.06" fill="url(#gc)"/>
<circle cx="395.62" cy="152.3" r="3.17" fill="url(#gc)"/>
<circle cx="410.08" cy="161.12" r="3.08" fill="url(#gc)"/>
<circle cx="493.6" cy="113.61" r="3.25" fill="url(#gc)"/>
<circle cx="408.57" cy="187.8" r="2.82" fill="url(#gp)"/>
<circle cx="385.43" cy="108.75" r="3.03" fill="url(#gc)"/>
<circle cx="457.04" cy="175.89" r="3.05" fill="url(#gc)"/>
<circle cx="108.11" cy="95.79" r="3.14" fill="url(#gc)"/>
<circle cx="417.51" cy="177.2" r="3.06" fill="url(#gc)"/>
<circle cx="388.27" cy="167.06" r="3.26" fill="url(#gc)"/>
<circle cx="206.1" cy="187.87" r="3.81" fill="url(#gy)"/>
<circle cx="219.94" cy="109.45" r="3.43" fill="url(#go)"/>
<circle cx="550.73" cy="168.8" r="4.1" fill="url(#gy)"/>
<circle cx="176.13" cy="99.55" r="3.06" fill="url(#gc)"/>
<circle cx="545.36" cy="167.29" r="3.46" fill="url(#gc)"/>
<circle cx="533.76" cy="140.95" r="3.14" fill="url(#gc)"/>
<circle cx="281.52" cy="92.06" r="3.1" fill="url(#gc)"/>
<circle cx="145.87" cy="160.42" r="3.05" fill="url(#gc)"/>
<circle cx="536.67" cy="118.55" r="3.12" fill="url(#gp)"/>
<circle cx="324.06" cy="142.37" r="3.27" fill="url(#gc)"/>
<circle cx="149.32" cy="158.08" r="2.98" fill="url(#gc)"/>
<circle cx="513.31" cy="172.83" r="3.01" fill="url(#gc)"/>
<circle cx="419.42" cy="93.09" r="3.86" fill="url(#gy)"/>
<circle cx="450.39" cy="123.27" r="4.05" fill="url(#gy)"/>
<circle cx="177.34" cy="125.45" r="4.21" fill="url(#gy)"/>
<circle cx="528.03" cy="154.02" r="4.24" fill="url(#gy)"/>
<circle cx="473.09" cy="122.2" r="2.93" fill="url(#gc)"/>
<circle cx="306.45" cy="126.02" r="3.32" fill="url(#go)"/>
<circle cx="157.66" cy="177.82" r="3.93" fill="url(#gy)"/>
<circle cx="451" cy="120.36" r="4.03" fill="url(#gy)"/>
<circle cx="221.94" cy="102.4" r="4.27" fill="url(#gy)"/>
<circle cx="437.91" cy="178.76" r="3.09" fill="url(#gc)"/>
<circle cx="157.8" cy="95.04" r="3.88" fill="url(#gy)"/>
<circle cx="429.83" cy="161.88" r="4.47" fill="url(#gy)"/>
<circle cx="119.49" cy="116.5" r="4.21" fill="url(#gy)"/>
<circle cx="351.79" cy="127.88" r="3.13" fill="url(#gp)"/>
<circle cx="116.95" cy="114.59" r="4.38" fill="url(#gy)"/>
<circle cx="138.52" cy="117.71" r="3.05" fill="url(#gc)"/>
<circle cx="411.11" cy="185.7" r="3.8" fill="url(#gy)"/>
<circle cx="432.87" cy="101.59" r="3.4" fill="url(#gc)"/>
<circle cx="330.39" cy="93.04" r="3.04" fill="url(#gc)"/>
<circle cx="205.84" cy="189.13" r="3.35" fill="url(#gc)"/>
<circle cx="438.44" cy="117.76" r="4.08" fill="url(#gy)"/>
<circle cx="464.46" cy="183.26" r="3.39" fill="url(#gc)"/>
<circle cx="271.12" cy="186.62" r="3.24" fill="url(#gp)"/>
<circle cx="464.63" cy="104.39" r="3.5" fill="url(#gc)"/>
<circle cx="127.1" cy="116.86" r="4.28" fill="url(#gy)"/>
<circle cx="487.9" cy="141.12" r="4.46" fill="url(#gy)"/>
<circle cx="462.29" cy="96.12" r="3.51" fill="url(#gc)"/>
<circle cx="89.6" cy="189.25" r="3.38" fill="url(#gc)"/>
<circle cx="499.45" cy="184.13" r="4.18" fill="url(#gy)"/>
<circle cx="348.34" cy="173.29" r="4.09" fill="url(#gy)"/>
<circle cx="412.67" cy="133.51" r="3.85" fill="url(#gy)"/>
<circle cx="254.61" cy="195.48" r="2.99" fill="url(#gc)"/>
<circle cx="513.43" cy="96.99" r="2.38" fill="url(#gb)"/>
<circle cx="317.19" cy="177.03" r="4.22" fill="url(#gy)"/>
<circle cx="116.02" cy="171.1" r="3.83" fill="url(#gy)"/>
<circle cx="313.36" cy="167.89" r="4.32" fill="url(#gy)"/>
<circle cx="245.34" cy="107.85" r="4.05" fill="url(#gy)"/>
<circle cx="333.07" cy="151.33" r="4.43" fill="url(#gy)"/>
<circle cx="512.82" cy="173.52" r="2.93" fill="url(#gc)"/>
<circle cx="203.82" cy="112.2" r="4.03" fill="url(#gy)"/>
<circle cx="347.03" cy="188.41" r="3.02" fill="url(#gc)"/>
<circle cx="454.41" cy="114.04" r="4.04" fill="url(#gy)"/>
<circle cx="231.87" cy="121.48" r="3.34" fill="url(#gc)"/>
<circle cx="99.03" cy="189.21" r="3.33" fill="url(#gc)"/>
<circle cx="99.43" cy="106.33" r="3" fill="url(#gc)"/>
<circle cx="183.13" cy="142.79" r="3.92" fill="url(#gy)"/>
<circle cx="548.15" cy="187.54" r="3.25" fill="url(#gc)"/>
<circle cx="171.69" cy="136.7" r="4.53" fill="url(#gy)"/>
<circle cx="175.83" cy="139.56" r="3.98" fill="url(#gy)"/>
<circle cx="218.83" cy="119.89" r="3.82" fill="url(#gy)"/>
<circle cx="308.92" cy="109.77" r="3.15" fill="url(#gp)"/>
<circle cx="124.97" cy="172.27" r="4.25" fill="url(#gy)"/>
<circle cx="153.3" cy="151.44" r="3.11" fill="url(#gp)"/>
<circle cx="418.98" cy="188.51" r="3.14" fill="url(#gc)"/>
<circle cx="231.66" cy="129.1" r="3.51" fill="url(#gc)"/>
<circle cx="412.84" cy="95.78" r="4.27" fill="url(#gy)"/>
<circle cx="439.05" cy="189.3" r="3.26" fill="url(#gc)"/>
<circle cx="193.58" cy="170.4" r="4.23" fill="url(#gy)"/>
<circle cx="94.68" cy="189.96" r="3.08" fill="url(#gc)"/>
<circle cx="539.17" cy="164.35" r="3.02" fill="url(#gc)"/>
<circle cx="291.79" cy="172.61" r="4.22" fill="url(#gy)"/>
<circle cx="184.19" cy="103.9" r="3.17" fill="url(#gc)"/>
<circle cx="387.46" cy="115.48" r="2.78" fill="url(#gp)"/>
<circle cx="389" cy="133.88" r="4.29" fill="url(#gy)"/>
<circle cx="266.57" cy="178.51" r="3.48" fill="url(#gc)"/>
<circle cx="517.51" cy="165.49" r="3.35" fill="url(#gc)"/>
<circle cx="522.57" cy="98.77" r="3.46" fill="url(#gc)"/>
<circle cx="212.53" cy="180.12" r="2.95" fill="url(#gc)"/>
<circle cx="191.65" cy="149.65" r="3.17" fill="url(#gc)"/>
<circle cx="240.51" cy="123.46" r="4.36" fill="url(#gy)"/>
<circle cx="224.1" cy="121.52" r="4.38" fill="url(#gy)"/>
<circle cx="465.85" cy="173.99" r="3.44" fill="url(#gc)"/>
<circle cx="476.48" cy="121.45" r="4.26" fill="url(#gy)"/>
<circle cx="203.56" cy="152.09" r="3.39" fill="url(#gc)"/>
<circle cx="402.07" cy="156.38" r="2.94" fill="url(#gc)"/>
<circle cx="251.19" cy="95.37" r="4.25" fill="url(#gy)"/>
<circle cx="421.38" cy="174.01" r="3.31" fill="url(#gc)"/>
<circle cx="499.78" cy="181.7" r="3.04" fill="url(#gc)"/>
<circle cx="236.47" cy="176.54" r="2.98" fill="url(#gc)"/>
<circle cx="152.73" cy="91.09" r="3.92" fill="url(#gy)"/>
<circle cx="473.63" cy="179.55" r="3.17" fill="url(#gc)"/>
<circle cx="455.28" cy="134.6" r="3.4" fill="url(#gc)"/>
<circle cx="318" cy="138.36" r="4.31" fill="url(#gy)"/>
<circle cx="550.3" cy="100.61" r="3.84" fill="url(#gy)"/>
<circle cx="344.97" cy="128.09" r="2.98" fill="url(#gc)"/>
<circle cx="474.09" cy="168.65" r="4.35" fill="url(#gy)"/>
<circle cx="496.49" cy="154.81" r="4.23" fill="url(#gy)"/>
<circle cx="234.76" cy="187.12" r="4.51" fill="url(#gy)"/>
<circle cx="542.31" cy="170.85" r="3.17" fill="url(#gc)"/>
<circle cx="442.88" cy="148.32" r="3.87" fill="url(#gy)"/>
<circle cx="491.82" cy="121.75" r="2.95" fill="url(#gc)"/>
<circle cx="266.38" cy="167.53" r="3.23" fill="url(#gp)"/>
<circle cx="117.15" cy="158.8" r="3.01" fill="url(#gc)"/>
<circle cx="373.94" cy="190.21" r="3.11" fill="url(#gc)"/>
<circle cx="240.55" cy="136.42" r="3.12" fill="url(#gc)"/>
<circle cx="146.67" cy="137.01" r="3.37" fill="url(#gc)"/>
<circle cx="438.74" cy="115.11" r="3.06" fill="url(#gc)"/>
<circle cx="245.71" cy="192.1" r="3.36" fill="url(#gc)"/>
<circle cx="198.13" cy="183.74" r="2.96" fill="url(#gc)"/>
<circle cx="496.21" cy="137.32" r="4.16" fill="url(#gy)"/>
<circle cx="505.93" cy="139.93" r="2.3" fill="url(#gb)"/>
<circle cx="274.19" cy="131.69" r="4.02" fill="url(#gy)"/>
<circle cx="107.29" cy="108.15" r="3.41" fill="url(#gc)"/>
<circle cx="344.23" cy="96.19" r="2.94" fill="url(#gc)"/>
<circle cx="139.86" cy="192.83" r="3.09" fill="url(#gc)"/>
<circle cx="427.03" cy="151.45" r="4.18" fill="url(#gy)"/>
<circle cx="518.46" cy="117.15" r="4.31" fill="url(#gy)"/>
<circle cx="117" cy="194.64" r="4.28" fill="url(#gy)"/>
<circle cx="100.03" cy="161.87" r="3.3" fill="url(#gc)"/>
<circle cx="543.19" cy="178.91" r="3.13" fill="url(#gp)"/>
<circle cx="108.35" cy="160.69" r="4.01" fill="url(#gy)"/>
<circle cx="534.02" cy="117.66" r="3.02" fill="url(#gp)"/>
</g>
<rect x="84" y="89" width="472.5" height="108.5" rx="6" fill="none" stroke="#3c3c42" stroke-width="4"/>
<rect x="179.5" y="84" width="26.1" height="117.3" fill="#0000ff" fill-opacity="0.3"/>
<rect x="409" y="84" width="26.9" height="117.3" fill="#ff0000" fill-opacity="0.3"/>
<rect x="192.6" y="263.7" width="24.6" height="199.5" fill="#b3b3ff"/>
<rect x="421.2" y="263.7" width="24.6" height="199.5" fill="#ffb3b3"/>
<line x1="79.5" y1="288.68" x2="559.8" y2="288.68" stroke="#ffb3b3" stroke-width="2.6"/>
<line x1="79.5" y1="361.54" x2="559.8" y2="361.54" stroke="#d9d9d9" stroke-width="2.6"/>
<line x1="79.5" y1="434.4" x2="559.8" y2="434.4" stroke="#b3b3ff" stroke-width="2.6"/>
<polyline points="90.5,364.5 113.37,380.2 136.24,397 159.11,414.8 181.98,432.4 204.85,443.9 227.72,430.5 250.59,412.1 273.46,395.6 296.33,378.3 319.2,361.8 342.07,345.3 364.94,327.9 387.81,310.9 410.68,293.6 433.55,281.8 456.42,295.2 479.29,312.3 502.16,329.3 525.03,346.7 547.9,364" fill="none" stroke="#28188a" stroke-width="2.7" stroke-linejoin="round"/>
<line x1="86.7" y1="364.5" x2="94.3" y2="364.5" stroke="#28188a" stroke-width="2.4"/>
<line x1="109.57" y1="380.2" x2="117.17" y2="380.2" stroke="#28188a" stroke-width="2.4"/>
<line x1="132.44" y1="397" x2="140.04" y2="397" stroke="#28188a" stroke-width="2.4"/>
<line x1="155.31" y1="414.8" x2="162.91" y2="414.8" stroke="#28188a" stroke-width="2.4"/>
<line x1="178.18" y1="432.4" x2="185.78" y2="432.4" stroke="#28188a" stroke-width="2.4"/>
<line x1="201.05" y1="443.9" x2="208.65" y2="443.9" stroke="#28188a" stroke-width="2.4"/>
<line x1="223.92" y1="430.5" x2="231.52" y2="430.5" stroke="#28188a" stroke-width="2.4"/>
<line x1="246.79" y1="412.1" x2="254.39" y2="412.1" stroke="#28188a" stroke-width="2.4"/>
<line x1="269.66" y1="395.6" x2="277.26" y2="395.6" stroke="#28188a" stroke-width="2.4"/>
<line x1="292.53" y1="378.3" x2="300.13" y2="378.3" stroke="#28188a" stroke-width="2.4"/>
<line x1="315.4" y1="361.8" x2="323" y2="361.8" stroke="#28188a" stroke-width="2.4"/>
<line x1="338.27" y1="345.3" x2="345.87" y2="345.3" stroke="#28188a" stroke-width="2.4"/>
<line x1="361.14" y1="327.9" x2="368.74" y2="327.9" stroke="#28188a" stroke-width="2.4"/>
<line x1="384.01" y1="310.9" x2="391.61" y2="310.9" stroke="#28188a" stroke-width="2.4"/>
<line x1="406.88" y1="293.6" x2="414.48" y2="293.6" stroke="#28188a" stroke-width="2.4"/>
<line x1="429.75" y1="281.8" x2="437.35" y2="281.8" stroke="#28188a" stroke-width="2.4"/>
<line x1="452.62" y1="295.2" x2="460.22" y2="295.2" stroke="#28188a" stroke-width="2.4"/>
<line x1="475.49" y1="312.3" x2="483.09" y2="312.3" stroke="#28188a" stroke-width="2.4"/>
<line x1="498.36" y1="329.3" x2="505.96" y2="329.3" stroke="#28188a" stroke-width="2.4"/>
<line x1="521.23" y1="346.7" x2="528.83" y2="346.7" stroke="#28188a" stroke-width="2.4"/>
<line x1="544.1" y1="364" x2="551.7" y2="364" stroke="#28188a" stroke-width="2.4"/>
<line x1="90.5" y1="339.5" x2="90.5" y2="390.1" stroke="#872150" stroke-width="2.7"/>
<line x1="86.6" y1="339.5" x2="94.4" y2="339.5" stroke="#872150" stroke-width="2.6"/>
<line x1="86.6" y1="390.1" x2="94.4" y2="390.1" stroke="#872150" stroke-width="2.6"/>
<circle cx="90.5" cy="364.6" r="6.7" fill="#872150"/>
<line x1="113.37" y1="352.4" x2="113.37" y2="394.3" stroke="#872150" stroke-width="2.7"/>
<line x1="109.47" y1="352.4" x2="117.27" y2="352.4" stroke="#872150" stroke-width="2.6"/>
<line x1="109.47" y1="394.3" x2="117.27" y2="394.3" stroke="#872150" stroke-width="2.6"/>
<circle cx="113.37" cy="373.3" r="6.7" fill="#872150"/>
<line x1="136.24" y1="348.2" x2="136.24" y2="385.5" stroke="#872150" stroke-width="2.7"/>
<line x1="132.34" y1="348.2" x2="140.14" y2="348.2" stroke="#872150" stroke-width="2.6"/>
<line x1="132.34" y1="385.5" x2="140.14" y2="385.5" stroke="#872150" stroke-width="2.6"/>
<circle cx="136.24" cy="366.7" r="6.7" fill="#872150"/>
<line x1="159.11" y1="322.4" x2="159.11" y2="367.4" stroke="#872150" stroke-width="2.7"/>
<line x1="155.21" y1="322.4" x2="163.01" y2="322.4" stroke="#872150" stroke-width="2.6"/>
<line x1="155.21" y1="367.4" x2="163.01" y2="367.4" stroke="#872150" stroke-width="2.6"/>
<circle cx="159.11" cy="344.7" r="6.7" fill="#872150"/>
<line x1="181.98" y1="309.8" x2="181.98" y2="358" stroke="#872150" stroke-width="2.7"/>
<line x1="178.08" y1="309.8" x2="185.88" y2="309.8" stroke="#872150" stroke-width="2.6"/>
<line x1="178.08" y1="358" x2="185.88" y2="358" stroke="#872150" stroke-width="2.6"/>
<circle cx="181.98" cy="333.9" r="6.7" fill="#872150"/>
<line x1="204.85" y1="288.2" x2="204.85" y2="343" stroke="#872150" stroke-width="2.7"/>
<line x1="200.95" y1="288.2" x2="208.75" y2="288.2" stroke="#872150" stroke-width="2.6"/>
<line x1="200.95" y1="343" x2="208.75" y2="343" stroke="#872150" stroke-width="2.6"/>
<circle cx="204.85" cy="315.4" r="6.7" fill="#872150"/>
<line x1="227.72" y1="284.7" x2="227.72" y2="346.1" stroke="#872150" stroke-width="2.7"/>
<line x1="223.82" y1="284.7" x2="231.62" y2="284.7" stroke="#872150" stroke-width="2.6"/>
<line x1="223.82" y1="346.1" x2="231.62" y2="346.1" stroke="#872150" stroke-width="2.6"/>
<circle cx="227.72" cy="315.4" r="6.7" fill="#872150"/>
<line x1="250.59" y1="299.3" x2="250.59" y2="350.6" stroke="#872150" stroke-width="2.7"/>
<line x1="246.69" y1="299.3" x2="254.49" y2="299.3" stroke="#872150" stroke-width="2.6"/>
<line x1="246.69" y1="350.6" x2="254.49" y2="350.6" stroke="#872150" stroke-width="2.6"/>
<circle cx="250.59" cy="324.8" r="6.7" fill="#872150"/>
<line x1="273.46" y1="346.5" x2="273.46" y2="380" stroke="#872150" stroke-width="2.7"/>
<line x1="269.56" y1="346.5" x2="277.36" y2="346.5" stroke="#872150" stroke-width="2.6"/>
<line x1="269.56" y1="380" x2="277.36" y2="380" stroke="#872150" stroke-width="2.6"/>
<circle cx="273.46" cy="363.2" r="6.7" fill="#872150"/>
<line x1="296.33" y1="374.7" x2="296.33" y2="406.5" stroke="#872150" stroke-width="2.7"/>
<line x1="292.43" y1="374.7" x2="300.23" y2="374.7" stroke="#872150" stroke-width="2.6"/>
<line x1="292.43" y1="406.5" x2="300.23" y2="406.5" stroke="#872150" stroke-width="2.6"/>
<circle cx="296.33" cy="390.8" r="6.7" fill="#872150"/>
<line x1="319.2" y1="370.2" x2="319.2" y2="403" stroke="#872150" stroke-width="2.7"/>
<line x1="315.3" y1="370.2" x2="323.1" y2="370.2" stroke="#872150" stroke-width="2.6"/>
<line x1="315.3" y1="403" x2="323.1" y2="403" stroke="#872150" stroke-width="2.6"/>
<circle cx="319.2" cy="386.6" r="6.7" fill="#872150"/>
<line x1="342.07" y1="369.7" x2="342.07" y2="409.4" stroke="#872150" stroke-width="2.7"/>
<line x1="338.17" y1="369.7" x2="345.97" y2="369.7" stroke="#872150" stroke-width="2.6"/>
<line x1="338.17" y1="409.4" x2="345.97" y2="409.4" stroke="#872150" stroke-width="2.6"/>
<circle cx="342.07" cy="389.8" r="6.7" fill="#872150"/>
<line x1="364.94" y1="390.7" x2="364.94" y2="430.9" stroke="#872150" stroke-width="2.7"/>
<line x1="361.04" y1="390.7" x2="368.84" y2="390.7" stroke="#872150" stroke-width="2.6"/>
<line x1="361.04" y1="430.9" x2="368.84" y2="430.9" stroke="#872150" stroke-width="2.6"/>
<circle cx="364.94" cy="410.8" r="6.7" fill="#872150"/>
<line x1="387.81" y1="403" x2="387.81" y2="442.3" stroke="#872150" stroke-width="2.7"/>
<line x1="383.91" y1="403" x2="391.71" y2="403" stroke="#872150" stroke-width="2.6"/>
<line x1="383.91" y1="442.3" x2="391.71" y2="442.3" stroke="#872150" stroke-width="2.6"/>
<circle cx="387.81" cy="422.2" r="6.7" fill="#872150"/>
<line x1="410.68" y1="420.8" x2="410.68" y2="457.3" stroke="#872150" stroke-width="2.7"/>
<line x1="406.78" y1="420.8" x2="414.58" y2="420.8" stroke="#872150" stroke-width="2.6"/>
<line x1="406.78" y1="457.3" x2="414.58" y2="457.3" stroke="#872150" stroke-width="2.6"/>
<circle cx="410.68" cy="439.1" r="6.7" fill="#872150"/>
<line x1="433.55" y1="407.6" x2="433.55" y2="447.3" stroke="#872150" stroke-width="2.7"/>
<line x1="429.65" y1="407.6" x2="437.45" y2="407.6" stroke="#872150" stroke-width="2.6"/>
<line x1="429.65" y1="447.3" x2="437.45" y2="447.3" stroke="#872150" stroke-width="2.6"/>
<circle cx="433.55" cy="427.7" r="6.7" fill="#872150"/>
<line x1="456.42" y1="384.3" x2="456.42" y2="428.1" stroke="#872150" stroke-width="2.7"/>
<line x1="452.52" y1="384.3" x2="460.32" y2="384.3" stroke="#872150" stroke-width="2.6"/>
<line x1="452.52" y1="428.1" x2="460.32" y2="428.1" stroke="#872150" stroke-width="2.6"/>
<circle cx="456.42" cy="406.2" r="6.7" fill="#872150"/>
<line x1="479.29" y1="371.5" x2="479.29" y2="403.5" stroke="#872150" stroke-width="2.7"/>
<line x1="475.39" y1="371.5" x2="483.19" y2="371.5" stroke="#872150" stroke-width="2.6"/>
<line x1="475.39" y1="403.5" x2="483.19" y2="403.5" stroke="#872150" stroke-width="2.6"/>
<circle cx="479.29" cy="387.5" r="6.7" fill="#872150"/>
<line x1="502.16" y1="350.1" x2="502.16" y2="399.4" stroke="#872150" stroke-width="2.7"/>
<line x1="498.26" y1="350.1" x2="506.06" y2="350.1" stroke="#872150" stroke-width="2.6"/>
<line x1="498.26" y1="399.4" x2="506.06" y2="399.4" stroke="#872150" stroke-width="2.6"/>
<circle cx="502.16" cy="375.2" r="6.7" fill="#872150"/>
<line x1="525.03" y1="340.5" x2="525.03" y2="389.8" stroke="#872150" stroke-width="2.7"/>
<line x1="521.13" y1="340.5" x2="528.93" y2="340.5" stroke="#872150" stroke-width="2.6"/>
<line x1="521.13" y1="389.8" x2="528.93" y2="389.8" stroke="#872150" stroke-width="2.6"/>
<circle cx="525.03" cy="365.1" r="6.7" fill="#872150"/>
<line x1="547.9" y1="339.6" x2="547.9" y2="389.8" stroke="#872150" stroke-width="2.7"/>
<line x1="544" y1="339.6" x2="551.8" y2="339.6" stroke="#872150" stroke-width="2.6"/>
<line x1="544" y1="389.8" x2="551.8" y2="389.8" stroke="#872150" stroke-width="2.6"/>
<circle cx="547.9" cy="364.7" r="6.7" fill="#872150"/>
<line x1="92" y1="423.5" x2="170.5" y2="423.5" stroke="#28188a" stroke-width="2.8"/>
<polygon points="79.9,423.5 93,417.1 93,429.9" fill="#28188a"/>
<line x1="456.4" y1="423.6" x2="547" y2="423.6" stroke="#872150" stroke-width="2.8"/>
<polygon points="559.2,423.6 546,417.2 546,430" fill="#872150"/>
<rect x="79.5" y="263.7" width="480.3" height="199.5" fill="none" stroke="#000" stroke-width="2.8"/>
<line x1="90.3" y1="464.5" x2="90.3" y2="469.9" stroke="#000" stroke-width="2.6"/>
<text x="90.5" y="495.1" font-size="27.3" fill="#000" text-anchor="middle">0</text>
<line x1="204.65" y1="464.5" x2="204.65" y2="469.9" stroke="#000" stroke-width="2.6"/>
<text x="204.85" y="495.1" font-size="27.3" fill="#000" text-anchor="middle">5</text>
<line x1="319" y1="464.5" x2="319" y2="469.9" stroke="#000" stroke-width="2.6"/>
<text x="319.2" y="495.1" font-size="27.3" fill="#000" text-anchor="middle">10</text>
<line x1="433.35" y1="464.5" x2="433.35" y2="469.9" stroke="#000" stroke-width="2.6"/>
<text x="433.55" y="495.1" font-size="27.3" fill="#000" text-anchor="middle">15</text>
<line x1="547.7" y1="464.5" x2="547.7" y2="469.9" stroke="#000" stroke-width="2.6"/>
<text x="547.9" y="495.1" font-size="27.3" fill="#000" text-anchor="middle">20</text>
<text x="311.6" y="531.8" font-size="32.6" fill="#000" text-anchor="middle">Position, <tspan font-style="italic">x</tspan> (nm)</text>
<line x1="78.2" y1="434.4" x2="72.5" y2="434.4" stroke="#28188a" stroke-width="2.6"/>
<text x="65.9" y="444.3" font-size="28.3" fill="#28188a" text-anchor="end">20</text>
<line x1="78.2" y1="361.54" x2="72.5" y2="361.54" stroke="#28188a" stroke-width="2.6"/>
<text x="65.9" y="371.44" font-size="28.3" fill="#28188a" text-anchor="end">40</text>
<line x1="78.2" y1="288.68" x2="72.5" y2="288.68" stroke="#28188a" stroke-width="2.6"/>
<text x="65.9" y="298.58" font-size="28.3" fill="#28188a" text-anchor="end">60</text>
<text x="23.6" y="375" font-size="28.6" fill="#28188a" text-anchor="middle" transform="rotate(-90 23.6 375)">Temperature (°C)</text>
<line x1="561.1" y1="264.3" x2="566.8" y2="264.3" stroke="#872150" stroke-width="2.6"/>
<text x="573" y="274.7" font-size="28.3" fill="#872150">65</text>
<line x1="561.1" y1="329.7" x2="566.8" y2="329.7" stroke="#872150" stroke-width="2.6"/>
<text x="573" y="340.1" font-size="28.3" fill="#872150">70</text>
<line x1="561.1" y1="395" x2="566.8" y2="395" stroke="#872150" stroke-width="2.6"/>
<text x="573" y="405.4" font-size="28.3" fill="#872150">75</text>
<line x1="561.1" y1="460.4" x2="566.8" y2="460.4" stroke="#872150" stroke-width="2.6"/>
<text x="573" y="468.2" font-size="28.3" fill="#872150">80</text>
<text x="512.6" y="252.2" font-size="28.3" fill="#872150">x10<tspan font-size="16" dy="-8.2">3</tspan></text>
<text x="635.6" y="362.2" font-size="28.75" fill="#872150" text-anchor="middle" transform="rotate(-90 635.6 362.2)">Ion concentration (ppm)</text>
<rect x="39.5" y="572.7" width="566.1" height="170.2" fill="#fff" stroke="#d5d5d5" stroke-width="4.6" rx="4.5"/>
<line x1="52.9" y1="600" x2="106.9" y2="600" stroke="#28188a" stroke-width="2.4"/>
<line x1="79.9" y1="586.8" x2="79.9" y2="613.6" stroke="#28188a" stroke-width="2.5"/>
<line x1="76" y1="587.3" x2="83.8" y2="587.3" stroke="#28188a" stroke-width="2.5"/>
<line x1="76" y1="613.1" x2="83.8" y2="613.1" stroke="#28188a" stroke-width="2.5"/>
<text x="125.5" y="604.9" font-size="28.3" fill="#000">Local temperature, d<tspan font-style="italic" dx="1.5">T</tspan>/d<tspan font-style="italic">x</tspan> = 3.7 K nm<tspan font-size="15" dy="-11.5">-1</tspan></text>
<line x1="79.9" y1="629.7" x2="79.9" y2="656" stroke="#872150" stroke-width="2.6"/>
<line x1="76" y1="629.9" x2="83.8" y2="629.9" stroke="#872150" stroke-width="2.5"/>
<line x1="76" y1="655.8" x2="83.8" y2="655.8" stroke="#872150" stroke-width="2.5"/>
<circle cx="79.9" cy="642.8" r="6.8" fill="#872150"/>
<text x="125.5" y="644.2" font-size="28.3" fill="#000">Local ion concentration</text>
<rect x="51.9" y="669" width="55.7" height="22" fill="#b3b3ff"/>
<text x="125.5" y="685.4" font-size="28.3" fill="#000">Thermostat region, <tspan font-style="italic">T</tspan><tspan font-size="16.5" dy="9.5" dx="1">cold</tspan><tspan dy="-9.5"> = 20 °C</tspan></text>
<rect x="51.9" y="707.7" width="55.7" height="21.7" fill="#ffb3b3"/>
<text x="125.5" y="725" font-size="28.3" fill="#000">Thermostat region, <tspan font-style="italic">T</tspan><tspan font-size="16.5" dy="9.5" dx="1">hot</tspan><tspan dy="-9.5"> = 60 °C</tspan></text>
</g>
<g id="panel-b">
<text x="687.5" y="43.3" font-size="53" fill="#000" font-weight="bold">b</text>
<polygon points="820,142.9 874.5,92.1 927.8,87.4 981.3,68.2 1035.6,106.5 1088.4,149.5 1142,208.2 1195.6,223 1250,264 1250,443.6 1195.6,427.6 1142,365.9 1088.4,364.3 1035.6,407 981.3,442.2 927.8,400.5 874.5,352.7 820,311" fill="#2a12b0" fill-opacity="0.105" stroke="#2a12b0" stroke-opacity="0.13" stroke-width="1.3"/>
<polygon points="820,62.5 874.5,72 927.8,78 981.3,100.6 1035.6,138.5 1088.4,160.3 1142,211.5 1195.6,254.4 1250,275.5 1250,398.9 1195.6,360.3 1142,323.5 1088.4,276.4 1035.6,259.5 981.3,251 927.8,221.8 874.5,165.6 820,174.7" fill="#e65f05" fill-opacity="0.105" stroke="#e65f05" stroke-opacity="0.13" stroke-width="1.3"/>
<line x1="810.6" y1="43.3" x2="810.6" y2="462.2" stroke="#a8a8a8" stroke-width="2.1"/>
<line x1="925" y1="43.3" x2="925" y2="462.2" stroke="#a8a8a8" stroke-width="2.1"/>
<line x1="1039.4" y1="43.3" x2="1039.4" y2="462.2" stroke="#a8a8a8" stroke-width="2.1"/>
<line x1="1153.8" y1="43.3" x2="1153.8" y2="462.2" stroke="#a8a8a8" stroke-width="2.1"/>
<line x1="1268.2" y1="43.3" x2="1268.2" y2="462.2" stroke="#a8a8a8" stroke-width="2.1"/>
<line x1="799.7" y1="401.4" x2="1280.3" y2="401.4" stroke="#a8a8a8" stroke-width="2.1"/>
<line x1="799.7" y1="333.04" x2="1280.3" y2="333.04" stroke="#a8a8a8" stroke-width="2.1"/>
<line x1="799.7" y1="264.68" x2="1280.3" y2="264.68" stroke="#a8a8a8" stroke-width="2.1"/>
<line x1="799.7" y1="196.32" x2="1280.3" y2="196.32" stroke="#a8a8a8" stroke-width="2.1"/>
<line x1="799.7" y1="127.96" x2="1280.3" y2="127.96" stroke="#a8a8a8" stroke-width="2.1"/>
<line x1="799.7" y1="59.6" x2="1280.3" y2="59.6" stroke="#a8a8a8" stroke-width="2.1"/>
<line x1="810.6" y1="91.1" x2="1268.4" y2="332.4" stroke="#e65f05" stroke-width="2.8"/>
<line x1="810.8" y1="207.1" x2="1268.4" y2="335" stroke="#2a12b0" stroke-width="2.8" stroke-dasharray="15 6.4"/>
<line x1="812.4" y1="226.9" x2="827.6" y2="226.9" stroke="#2a12b0" stroke-width="2.6"/>
<line x1="812.4" y1="221.2" x2="812.4" y2="232.6" stroke="#2a12b0" stroke-width="2.7"/>
<line x1="827.6" y1="221.2" x2="827.6" y2="232.6" stroke="#2a12b0" stroke-width="2.7"/>
<circle cx="820" cy="226.9" r="4" fill="#2a12b0"/>
<line x1="866.9" y1="222.4" x2="882.1" y2="222.4" stroke="#2a12b0" stroke-width="2.6"/>
<line x1="866.9" y1="216.7" x2="866.9" y2="228.1" stroke="#2a12b0" stroke-width="2.7"/>
<line x1="882.1" y1="216.7" x2="882.1" y2="228.1" stroke="#2a12b0" stroke-width="2.7"/>
<circle cx="874.5" cy="222.4" r="4" fill="#2a12b0"/>
<line x1="920.2" y1="245.2" x2="935.4" y2="245.2" stroke="#2a12b0" stroke-width="2.6"/>
<line x1="920.2" y1="239.5" x2="920.2" y2="250.9" stroke="#2a12b0" stroke-width="2.7"/>
<line x1="935.4" y1="239.5" x2="935.4" y2="250.9" stroke="#2a12b0" stroke-width="2.7"/>
<circle cx="927.8" cy="245.2" r="4" fill="#2a12b0"/>
<line x1="973.7" y1="255.4" x2="988.9" y2="255.4" stroke="#2a12b0" stroke-width="2.6"/>
<line x1="973.7" y1="249.7" x2="973.7" y2="261.1" stroke="#2a12b0" stroke-width="2.7"/>
<line x1="988.9" y1="249.7" x2="988.9" y2="261.1" stroke="#2a12b0" stroke-width="2.7"/>
<circle cx="981.3" cy="255.4" r="4" fill="#2a12b0"/>
<line x1="1028" y1="257.6" x2="1043.2" y2="257.6" stroke="#2a12b0" stroke-width="2.6"/>
<line x1="1028" y1="251.9" x2="1028" y2="263.3" stroke="#2a12b0" stroke-width="2.7"/>
<line x1="1043.2" y1="251.9" x2="1043.2" y2="263.3" stroke="#2a12b0" stroke-width="2.7"/>
<circle cx="1035.6" cy="257.6" r="4" fill="#2a12b0"/>
<line x1="1080.8" y1="258" x2="1096" y2="258" stroke="#2a12b0" stroke-width="2.6"/>
<line x1="1080.8" y1="252.3" x2="1080.8" y2="263.7" stroke="#2a12b0" stroke-width="2.7"/>
<line x1="1096" y1="252.3" x2="1096" y2="263.7" stroke="#2a12b0" stroke-width="2.7"/>
<circle cx="1088.4" cy="258" r="4" fill="#2a12b0"/>
<line x1="1134.4" y1="287.2" x2="1149.6" y2="287.2" stroke="#2a12b0" stroke-width="2.6"/>
<line x1="1134.4" y1="281.5" x2="1134.4" y2="292.9" stroke="#2a12b0" stroke-width="2.7"/>
<line x1="1149.6" y1="281.5" x2="1149.6" y2="292.9" stroke="#2a12b0" stroke-width="2.7"/>
<circle cx="1142" cy="287.2" r="4" fill="#2a12b0"/>
<line x1="1188" y1="325.5" x2="1203.2" y2="325.5" stroke="#2a12b0" stroke-width="2.6"/>
<line x1="1188" y1="319.8" x2="1188" y2="331.2" stroke="#2a12b0" stroke-width="2.7"/>
<line x1="1203.2" y1="319.8" x2="1203.2" y2="331.2" stroke="#2a12b0" stroke-width="2.7"/>
<circle cx="1195.6" cy="325.5" r="4" fill="#2a12b0"/>
<line x1="1242.4" y1="355.1" x2="1257.6" y2="355.1" stroke="#2a12b0" stroke-width="2.6"/>
<line x1="1242.4" y1="349.4" x2="1242.4" y2="360.8" stroke="#2a12b0" stroke-width="2.7"/>
<line x1="1257.6" y1="349.4" x2="1257.6" y2="360.8" stroke="#2a12b0" stroke-width="2.7"/>
<circle cx="1250" cy="355.1" r="4" fill="#2a12b0"/>
<line x1="814.5" y1="118.9" x2="824.3" y2="118.9" stroke="#e65f05" stroke-width="2.6"/>
<line x1="814.5" y1="113.3" x2="814.5" y2="124.5" stroke="#e65f05" stroke-width="2.7"/>
<line x1="824.3" y1="113.3" x2="824.3" y2="124.5" stroke="#e65f05" stroke-width="2.7"/>
<circle cx="819.4" cy="118.9" r="2.5" fill="none" stroke="#e65f05" stroke-width="2.4"/>
<line x1="869" y1="118.9" x2="878.8" y2="118.9" stroke="#e65f05" stroke-width="2.6"/>
<line x1="869" y1="113.3" x2="869" y2="124.5" stroke="#e65f05" stroke-width="2.7"/>
<line x1="878.8" y1="113.3" x2="878.8" y2="124.5" stroke="#e65f05" stroke-width="2.7"/>
<circle cx="873.9" cy="118.9" r="2.5" fill="none" stroke="#e65f05" stroke-width="2.4"/>
<line x1="922.3" y1="149.9" x2="932.1" y2="149.9" stroke="#e65f05" stroke-width="2.6"/>
<line x1="922.3" y1="144.3" x2="922.3" y2="155.5" stroke="#e65f05" stroke-width="2.7"/>
<line x1="932.1" y1="144.3" x2="932.1" y2="155.5" stroke="#e65f05" stroke-width="2.7"/>
<circle cx="927.2" cy="149.9" r="2.5" fill="none" stroke="#e65f05" stroke-width="2.4"/>
<line x1="975.8" y1="176.7" x2="985.6" y2="176.7" stroke="#e65f05" stroke-width="2.6"/>
<line x1="975.8" y1="171.1" x2="975.8" y2="182.3" stroke="#e65f05" stroke-width="2.7"/>
<line x1="985.6" y1="171.1" x2="985.6" y2="182.3" stroke="#e65f05" stroke-width="2.7"/>
<circle cx="980.7" cy="176.7" r="2.5" fill="none" stroke="#e65f05" stroke-width="2.4"/>
<line x1="1030.1" y1="200" x2="1039.9" y2="200" stroke="#e65f05" stroke-width="2.6"/>
<line x1="1030.1" y1="194.4" x2="1030.1" y2="205.6" stroke="#e65f05" stroke-width="2.7"/>
<line x1="1039.9" y1="194.4" x2="1039.9" y2="205.6" stroke="#e65f05" stroke-width="2.7"/>
<circle cx="1035" cy="200" r="2.5" fill="none" stroke="#e65f05" stroke-width="2.4"/>
<line x1="1082.9" y1="218.3" x2="1092.7" y2="218.3" stroke="#e65f05" stroke-width="2.6"/>
<line x1="1082.9" y1="212.7" x2="1082.9" y2="223.9" stroke="#e65f05" stroke-width="2.7"/>
<line x1="1092.7" y1="212.7" x2="1092.7" y2="223.9" stroke="#e65f05" stroke-width="2.7"/>
<circle cx="1087.8" cy="218.3" r="2.5" fill="none" stroke="#e65f05" stroke-width="2.4"/>
<line x1="1136.5" y1="262.8" x2="1146.3" y2="262.8" stroke="#e65f05" stroke-width="2.6"/>
<line x1="1136.5" y1="257.2" x2="1136.5" y2="268.4" stroke="#e65f05" stroke-width="2.7"/>
<line x1="1146.3" y1="257.2" x2="1146.3" y2="268.4" stroke="#e65f05" stroke-width="2.7"/>
<circle cx="1141.4" cy="262.8" r="2.5" fill="none" stroke="#e65f05" stroke-width="2.4"/>
<line x1="1190.1" y1="304.2" x2="1199.9" y2="304.2" stroke="#e65f05" stroke-width="2.6"/>
<line x1="1190.1" y1="298.6" x2="1190.1" y2="309.8" stroke="#e65f05" stroke-width="2.7"/>
<line x1="1199.9" y1="298.6" x2="1199.9" y2="309.8" stroke="#e65f05" stroke-width="2.7"/>
<circle cx="1195" cy="304.2" r="2.5" fill="none" stroke="#e65f05" stroke-width="2.4"/>
<line x1="1244.5" y1="336.6" x2="1254.3" y2="336.6" stroke="#e65f05" stroke-width="2.6"/>
<line x1="1244.5" y1="331" x2="1244.5" y2="342.2" stroke="#e65f05" stroke-width="2.7"/>
<line x1="1254.3" y1="331" x2="1254.3" y2="342.2" stroke="#e65f05" stroke-width="2.7"/>
<circle cx="1249.4" cy="336.6" r="2.5" fill="none" stroke="#e65f05" stroke-width="2.4"/>
<rect x="799.7" y="43.3" width="480.6" height="418.9" fill="none" stroke="#000" stroke-width="2.3"/>
<line x1="810.6" y1="463.2" x2="810.6" y2="469" stroke="#000" stroke-width="2.2"/>
<text x="810.6" y="494.7" font-size="27" fill="#000" text-anchor="middle">20</text>
<line x1="925" y1="463.2" x2="925" y2="469" stroke="#000" stroke-width="2.2"/>
<text x="925" y="494.7" font-size="27" fill="#000" text-anchor="middle">30</text>
<line x1="1039.4" y1="463.2" x2="1039.4" y2="469" stroke="#000" stroke-width="2.2"/>
<text x="1039.4" y="494.7" font-size="27" fill="#000" text-anchor="middle">40</text>
<line x1="1153.8" y1="463.2" x2="1153.8" y2="469" stroke="#000" stroke-width="2.2"/>
<text x="1153.8" y="494.7" font-size="27" fill="#000" text-anchor="middle">50</text>
<line x1="1268.2" y1="463.2" x2="1268.2" y2="469" stroke="#000" stroke-width="2.2"/>
<text x="1268.2" y="494.7" font-size="27" fill="#000" text-anchor="middle">60</text>
<line x1="798.7" y1="401.4" x2="792.9" y2="401.4" stroke="#000" stroke-width="2.2"/>
<text x="786.6" y="408.7" font-size="28.3" fill="#000" text-anchor="end">66</text>
<line x1="798.7" y1="333.04" x2="792.9" y2="333.04" stroke="#000" stroke-width="2.2"/>
<text x="786.6" y="340.34" font-size="28.3" fill="#000" text-anchor="end">68</text>
<line x1="798.7" y1="264.68" x2="792.9" y2="264.68" stroke="#000" stroke-width="2.2"/>
<text x="786.6" y="271.98" font-size="28.3" fill="#000" text-anchor="end">70</text>
<line x1="798.7" y1="196.32" x2="792.9" y2="196.32" stroke="#000" stroke-width="2.2"/>
<text x="786.6" y="203.62" font-size="28.3" fill="#000" text-anchor="end">72</text>
<line x1="798.7" y1="127.96" x2="792.9" y2="127.96" stroke="#000" stroke-width="2.2"/>
<text x="786.6" y="135.26" font-size="28.3" fill="#000" text-anchor="end">74</text>
<line x1="798.7" y1="59.6" x2="792.9" y2="59.6" stroke="#000" stroke-width="2.2"/>
<text x="786.6" y="66.9" font-size="28.3" fill="#000" text-anchor="end">76</text>
<text x="803.8" y="33.5" font-size="27.5" fill="#000">×10<tspan font-size="15.7" dy="-10" dx="-0.5">3</tspan></text>
<text x="1044.6" y="534" font-size="28.4" fill="#000" text-anchor="middle">Temperature (°C)</text>
<text x="734" y="253.5" font-size="28.1" fill="#000" text-anchor="middle" transform="rotate(-90 734 253.5)">Ion concentration (ppm)</text>
<polyline points="1294,206.8 1300.2,206.8 1300.2,332.7 1294,332.7" fill="none" stroke="#2a12b0" stroke-width="2.5"/>
<polygon points="1281.7,206.8 1294.6,200.5 1294.6,213.1" fill="#2a12b0"/>
<polygon points="1281.7,332.7 1294.6,326.4 1294.6,339" fill="#2a12b0"/>
<polyline points="1298,93.6 1351.3,93.6 1351.3,332.7 1344,332.7" fill="none" stroke="#e65f05" stroke-width="2.7"/>
<polygon points="1285.2,93.6 1299.7,86.4 1299.7,100.8" fill="#e65f05"/>
<polygon points="1331.2,332.7 1345.7,325.5 1345.7,339.9" fill="#e65f05"/>
<text x="1327" y="336.8" font-size="28" fill="#2a12b0" transform="rotate(-90 1327 336.8)">ΔC = 3,800 ppm</text>
<text x="1379" y="320.8" font-size="28" fill="#e65f05" transform="rotate(-90 1379 320.8)">ΔC = 7,000 ppm</text>
<rect x="800.1" y="592.9" width="505.5" height="145.2" fill="#fff" stroke="#d5d5d5" stroke-width="4.3" rx="4.5"/>
<line x1="822.5" y1="614.8" x2="848.4" y2="614.8" stroke="#e65f05" stroke-width="2.6"/>
<line x1="822.5" y1="609" x2="822.5" y2="620.6" stroke="#e65f05" stroke-width="2.6"/>
<line x1="848.4" y1="609" x2="848.4" y2="620.6" stroke="#e65f05" stroke-width="2.6"/>
<circle cx="835.45" cy="614.8" r="2.5" fill="#fff" stroke="#e65f05" stroke-width="2.4"/>
<line x1="1087" y1="614.8" x2="1113.5" y2="614.8" stroke="#2a12b0" stroke-width="2.6"/>
<line x1="1087" y1="609" x2="1087" y2="620.6" stroke="#2a12b0" stroke-width="2.6"/>
<line x1="1113.5" y1="609" x2="1113.5" y2="620.6" stroke="#2a12b0" stroke-width="2.6"/>
<circle cx="1100.25" cy="614.8" r="4" fill="#2a12b0"/>
<text x="878.3" y="624.2" font-size="28.3" fill="#000">Seawater brine</text>
<text x="1146.6" y="624.2" font-size="28.3" fill="#000">NaCl brine</text>
<rect x="809.5" y="634.5" width="53" height="19.5" fill="#e65f05" fill-opacity="0.11" stroke="#e65f05" stroke-opacity="0.16" stroke-width="2.5"/>
<rect x="1073" y="636" width="54" height="19.5" fill="#2a12b0" fill-opacity="0.11" stroke="#2a12b0" stroke-opacity="0.16" stroke-width="2.5"/>
<text x="878.3" y="657" font-size="28.3" fill="#000">95% CI</text>
<text x="1146.6" y="657" font-size="28.3" fill="#000">95% CI</text>
<text x="878.3" y="689.6" font-size="28.3" fill="#000">Linear fit</text>
<text x="1146.6" y="689.6" font-size="28.3" fill="#000">Linear fit</text>
<line x1="809" y1="704.4" x2="863" y2="704.4" stroke="#e65f05" stroke-width="2.8"/>
<line x1="1074" y1="704.4" x2="1126.3" y2="704.4" stroke="#2a12b0" stroke-width="2.8" stroke-dasharray="15.2 6.1"/>
<text x="878.3" y="721.7" font-size="28.3" fill="#000"><tspan font-style="italic">R</tspan><tspan font-size="14" dy="-9.7" dx="-0.8">2</tspan><tspan dy="9.7"> = 0.97</tspan></text>
<text x="1146.6" y="721.7" font-size="28.3" fill="#000"><tspan font-style="italic">R</tspan><tspan font-size="14" dy="-9.7" dx="-0.8">2</tspan><tspan dy="9.7"> = 0.87</tspan></text>
</g>
<g id="panel-c">
<text x="1407.9" y="43.3" font-size="52.5" fill="#000" font-weight="bold" stroke="#000" stroke-width="1.7" stroke-linejoin="round">c</text>
<line x1="1578" y1="43.1" x2="1578" y2="463" stroke="#a8a8a8" stroke-width="2.3"/>
<line x1="1669" y1="43.1" x2="1669" y2="463" stroke="#a8a8a8" stroke-width="2.3"/>
<line x1="1760" y1="43.1" x2="1760" y2="463" stroke="#a8a8a8" stroke-width="2.3"/>
<line x1="1850.7" y1="43.1" x2="1850.7" y2="463" stroke="#a8a8a8" stroke-width="2.3"/>
<line x1="1941.6" y1="43.1" x2="1941.6" y2="463" stroke="#a8a8a8" stroke-width="2.3"/>
<line x1="1519.9" y1="410.51" x2="2000.8" y2="410.51" stroke="#a8a8a8" stroke-width="2.3"/>
<line x1="1519.9" y1="358.03" x2="2000.8" y2="358.03" stroke="#a8a8a8" stroke-width="2.3"/>
<line x1="1519.9" y1="305.55" x2="2000.8" y2="305.55" stroke="#a8a8a8" stroke-width="2.3"/>
<line x1="1519.9" y1="253.06" x2="2000.8" y2="253.06" stroke="#a8a8a8" stroke-width="2.3"/>
<line x1="1519.9" y1="200.57" x2="2000.8" y2="200.57" stroke="#a8a8a8" stroke-width="2.3"/>
<line x1="1519.9" y1="148.09" x2="2000.8" y2="148.09" stroke="#a8a8a8" stroke-width="2.3"/>
<line x1="1519.9" y1="95.61" x2="2000.8" y2="95.61" stroke="#a8a8a8" stroke-width="2.3"/>
<rect x="1541.6" y="207.19" width="72.9" height="255.81" fill="#005a23"/>
<line x1="1578" y1="191" x2="1578" y2="214.6" stroke="#000" stroke-width="2.6"/>
<rect x="1632.6" y="321.19" width="72.9" height="141.81" fill="#005a23"/>
<line x1="1669" y1="305.7" x2="1669" y2="342" stroke="#000" stroke-width="2.6"/>
<rect x="1723.6" y="289.8" width="72.9" height="173.2" fill="#a8308a"/>
<line x1="1760" y1="275.6" x2="1760" y2="304.7" stroke="#000" stroke-width="2.6"/>
<rect x="1814.3" y="304.81" width="72.9" height="158.19" fill="#a8308a"/>
<line x1="1850.7" y1="299" x2="1850.7" y2="310.2" stroke="#000" stroke-width="2.6"/>
<rect x="1905.2" y="264.92" width="72.9" height="198.08" fill="#a8308a"/>
<line x1="1941.6" y1="263.6" x2="1941.6" y2="266.2" stroke="#000" stroke-width="2.6"/>
<text x="1578.2" y="190.6" font-size="27.6" fill="#000" text-anchor="middle">2.4</text>
<text x="1668.2" y="297.6" font-size="27.6" fill="#000" text-anchor="middle">1.4</text>
<text x="1763.6" y="270" font-size="27.6" fill="#000" text-anchor="middle">1.65</text>
<text x="1855.6" y="292" font-size="27.6" fill="#000" text-anchor="middle">1.51</text>
<text x="1945" y="253" font-size="27.6" fill="#000" text-anchor="middle">1.89</text>
<polyline points="1588.2,147.5 1588.2,139.5 1658.6,139.5 1658.6,147.5" fill="none" stroke="#000" stroke-width="2.6"/>
<text x="1617.3" y="108.6" font-size="27.5" fill="#000" text-anchor="middle">(i)</text>
<text x="1620" y="139.9" font-size="26" fill="#000" text-anchor="middle" stroke="#000" stroke-width="0.5">**</text>
<polyline points="1678.9,238.7 1678.9,230.7 1750,230.7 1750,238.7" fill="none" stroke="#000" stroke-width="2.6"/>
<text x="1711.3" y="198.2" font-size="27.5" fill="#000" text-anchor="middle">(ii)</text>
<polyline points="1861.2,210.6 1861.2,202.6 1932,202.6 1932,210.6" fill="none" stroke="#000" stroke-width="2.6"/>
<text x="1894.5" y="170.5" font-size="27.5" fill="#000" text-anchor="middle">(iii)</text>
<rect x="1531.3" y="416.4" width="179.5" height="38.4" fill="#fff" stroke="#005a23" stroke-width="2.4"/>
<text x="1620.8" y="442.6" font-size="25.75" fill="#005a23" text-anchor="middle">MD simulation</text>
<rect x="1741.8" y="417.6" width="217.3" height="36.6" fill="#fff"/>
<text x="1850.8" y="442.6" font-size="25.85" fill="#a8308a" text-anchor="middle">Experiment</text>
<rect x="1519.9" y="43.1" width="480.9" height="419.9" fill="none" stroke="#000" stroke-width="2.5"/>
<line x1="1518.7" y1="463" x2="1513.1" y2="463" stroke="#000" stroke-width="2.6"/>
<text x="1502.8" y="470.2" font-size="28.1" fill="#000" text-anchor="end">0.0</text>
<line x1="1518.7" y1="410.51" x2="1513.1" y2="410.51" stroke="#000" stroke-width="2.6"/>
<text x="1502.8" y="417.71" font-size="28.1" fill="#000" text-anchor="end">0.5</text>
<line x1="1518.7" y1="358.03" x2="1513.1" y2="358.03" stroke="#000" stroke-width="2.6"/>
<text x="1502.8" y="365.23" font-size="28.1" fill="#000" text-anchor="end">1.0</text>
<line x1="1518.7" y1="305.55" x2="1513.1" y2="305.55" stroke="#000" stroke-width="2.6"/>
<text x="1502.8" y="312.75" font-size="28.1" fill="#000" text-anchor="end">1.5</text>
<line x1="1518.7" y1="253.06" x2="1513.1" y2="253.06" stroke="#000" stroke-width="2.6"/>
<text x="1502.8" y="260.26" font-size="28.1" fill="#000" text-anchor="end">2.0</text>
<line x1="1518.7" y1="200.57" x2="1513.1" y2="200.57" stroke="#000" stroke-width="2.6"/>
<text x="1502.8" y="207.77" font-size="28.1" fill="#000" text-anchor="end">2.5</text>
<line x1="1518.7" y1="148.09" x2="1513.1" y2="148.09" stroke="#000" stroke-width="2.6"/>
<text x="1502.8" y="155.29" font-size="28.1" fill="#000" text-anchor="end">3.0</text>
<line x1="1518.7" y1="95.61" x2="1513.1" y2="95.61" stroke="#000" stroke-width="2.6"/>
<text x="1502.8" y="102.81" font-size="28.1" fill="#000" text-anchor="end">3.5</text>
<line x1="1518.7" y1="43.12" x2="1513.1" y2="43.12" stroke="#000" stroke-width="2.6"/>
<text x="1502.8" y="50.32" font-size="28.1" fill="#000" text-anchor="end">4.0</text>
<line x1="1578" y1="464.2" x2="1578" y2="470" stroke="#000" stroke-width="2.6"/>
<line x1="1669" y1="464.2" x2="1669" y2="470" stroke="#000" stroke-width="2.6"/>
<line x1="1760" y1="464.2" x2="1760" y2="470" stroke="#000" stroke-width="2.6"/>
<line x1="1850.7" y1="464.2" x2="1850.7" y2="470" stroke="#000" stroke-width="2.6"/>
<line x1="1941.6" y1="464.2" x2="1941.6" y2="470" stroke="#000" stroke-width="2.6"/>
<text x="1520.5" y="33.5" font-size="27.5" fill="#000">×10<tspan font-size="15.3" dy="-10.5" dx="-1.5">−3</tspan></text>
<text x="1454.6" y="246.8" font-size="28.3" fill="#000" text-anchor="middle" transform="rotate(-90 1454.6 246.8)">Soret coefficient, <tspan font-style="normal">S</tspan><tspan font-size="16" dy="9">T</tspan><tspan dy="-9"> (K</tspan><tspan font-size="16" dy="-10.5">−1</tspan><tspan dy="10.5">)</tspan></text>
<text x="1568.4" y="710.7" font-size="28.2" fill="#000" font-weight="bold" transform="rotate(-90 1568.4 710.7)">Seawater brine</text>
<text x="1596.2" y="710.1" font-size="28.2" fill="#000" transform="rotate(-90 1596.2 710.1)">C<tspan font-size="15" dy="10">0</tspan><tspan dy="-10"> = 72,000 ppm</tspan></text>
<text x="1659.2" y="710.7" font-size="28.2" fill="#000" font-weight="bold" transform="rotate(-90 1659.2 710.7)">NaCl brine</text>
<text x="1687" y="710.1" font-size="28.2" fill="#000" transform="rotate(-90 1687 710.1)">C<tspan font-size="15" dy="10">0</tspan><tspan dy="-10"> = 70,000 ppm</tspan></text>
<text x="1750" y="710.7" font-size="28.2" fill="#000" font-weight="bold" transform="rotate(-90 1750 710.7)">NaCl brine</text>
<text x="1777.8" y="710.1" font-size="28.2" fill="#000" transform="rotate(-90 1777.8 710.1)">C<tspan font-size="15" dy="10">0</tspan><tspan dy="-10"> = 60,000 ppm</tspan></text>
<text x="1840.5" y="710.7" font-size="28.2" fill="#000" font-weight="bold" transform="rotate(-90 1840.5 710.7)">NaCl</text>
<text x="1868.3" y="710.1" font-size="28.2" fill="#000" transform="rotate(-90 1868.3 710.1)">C<tspan font-size="15" dy="10">0</tspan><tspan dy="-10"> = 30,000 ppm</tspan></text>
<text x="1923.3" y="710.7" font-size="28.2" fill="#000" font-weight="bold" transform="rotate(-90 1923.3 710.7)">NaCl</text>
<text x="1951.1" y="710.1" font-size="28.2" fill="#000" transform="rotate(-90 1951.1 710.1)">C<tspan font-size="15" dy="10">0</tspan><tspan dy="-10"> = 28,500 ppm</tspan></text>
<text x="1979" y="710.6" font-size="28.2" fill="#000" transform="rotate(-90 1979 710.6)">(Caldwell 1973)</text>
</g>
</svg></body></html>
